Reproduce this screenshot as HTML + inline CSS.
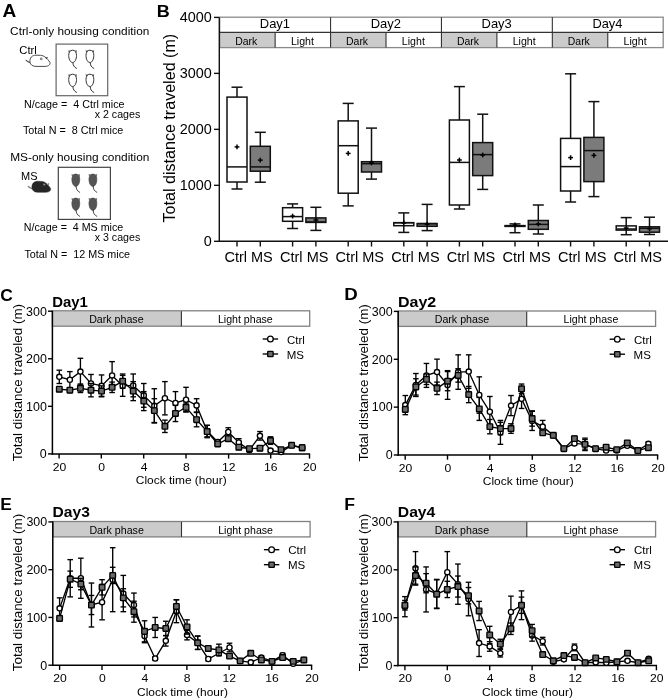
<!DOCTYPE html>
<html><head><meta charset="utf-8"><title>Figure</title>
<style>
html,body{margin:0;padding:0;background:#fff;width:668px;height:700px;overflow:hidden;}
svg{display:block;will-change:transform;}
text{font-family:"Liberation Sans", sans-serif;}
</style></head><body>
<svg width="668" height="700" viewBox="0 0 668 700">
<rect width="668" height="700" fill="#fff"/>
<text transform="translate(2.62 16.6) scale(1.0855 1)" font-size="17.6" font-weight="bold" fill="#000">A</text>
<text transform="translate(10.11 34.7) scale(1.0758 1)" font-size="11" fill="#000">Ctrl-only housing condition</text>
<text transform="translate(19.34 53.7) scale(1.1250 1)" font-size="10" fill="#000">Ctrl</text>
<path d="M30.2 62.6 Q28 62.2 26.1 60.4" stroke="#4a4a4a" stroke-width="1.1" fill="none" stroke-linecap="round"/>
<path d="M30 62.3 C29.4 57.8 32 55.2 36 55.2 L40.5 55.3 C44 55.5 47.3 58.2 49.9 62.4 C50.6 64.6 48.6 66.3 45 66.4 L36 66.4 C32.6 66.4 30.3 64.6 30 62.3 Z" fill="#fff" stroke="#4a4a4a" stroke-width="1.0"/>
<path d="M44.6 57.4 L48 56.9 L46.8 59.2 Z" fill="#444"/>
<circle cx="41.2" cy="58.9" r="1.4" fill="#8c8c8c"/>
<rect x="56.1" y="44.1" width="51.6" height="51.6" fill="none" stroke="#666" stroke-width="1.2"/>
<path d="M72.9 62.2 C72.8 65.4 74.1 67.1 76.5 68.4" stroke="#333" stroke-width="1.0" fill="none" stroke-linecap="round"/>
<path d="M72.6 50.2 C75.3 50.2 76.5 52.6 76.5 55.4 C76.5 59 75 62.5 72.6 62.5 C70.2 62.5 68.7 59 68.7 55.4 C68.7 52.6 69.9 50.2 72.6 50.2 Z" fill="#fff" stroke="#333" stroke-width="1.0"/>
<path d="M68.2 50.4 L70.7 50.5 L69 53 Z M77 50.4 L74.5 50.5 L76.2 53 Z" fill="#555"/>
<path d="M90.2 62.2 C90.1 65.4 91.4 67.1 93.8 68.4" stroke="#333" stroke-width="1.0" fill="none" stroke-linecap="round"/>
<path d="M89.9 50.2 C92.6 50.2 93.8 52.6 93.8 55.4 C93.8 59 92.3 62.5 89.9 62.5 C87.5 62.5 86 59 86 55.4 C86 52.6 87.2 50.2 89.9 50.2 Z" fill="#fff" stroke="#333" stroke-width="1.0"/>
<path d="M85.5 50.4 L88 50.5 L86.3 53 Z M94.3 50.4 L91.8 50.5 L93.5 53 Z" fill="#555"/>
<path d="M72.9 86.2 C72.8 89.4 74.1 91.1 76.5 92.4" stroke="#333" stroke-width="1.0" fill="none" stroke-linecap="round"/>
<path d="M72.6 74.2 C75.3 74.2 76.5 76.6 76.5 79.4 C76.5 83 75 86.5 72.6 86.5 C70.2 86.5 68.7 83 68.7 79.4 C68.7 76.6 69.9 74.2 72.6 74.2 Z" fill="#fff" stroke="#333" stroke-width="1.0"/>
<path d="M68.2 74.4 L70.7 74.5 L69 77 Z M77 74.4 L74.5 74.5 L76.2 77 Z" fill="#555"/>
<path d="M90.2 86.2 C90.1 89.4 91.4 91.1 93.8 92.4" stroke="#333" stroke-width="1.0" fill="none" stroke-linecap="round"/>
<path d="M89.9 74.2 C92.6 74.2 93.8 76.6 93.8 79.4 C93.8 83 92.3 86.5 89.9 86.5 C87.5 86.5 86 83 86 79.4 C86 76.6 87.2 74.2 89.9 74.2 Z" fill="#fff" stroke="#333" stroke-width="1.0"/>
<path d="M85.5 74.4 L88 74.5 L86.3 77 Z M94.3 74.4 L91.8 74.5 L93.5 77 Z" fill="#555"/>
<text transform="translate(23.94 107.9) scale(1.0536 1)" font-size="10.2" fill="#000">N/cage =&#160;&#160;4 Ctrl mice</text>
<text transform="translate(94.74 118) scale(1.0430 1)" font-size="10.2" fill="#000">x 2 cages</text>
<text transform="translate(22.88 133.5) scale(1.0589 1)" font-size="10.2" fill="#000">Total N =&#160;&#160;8 Ctrl mice</text>
<text transform="translate(10.15 160.8) scale(1.0813 1)" font-size="11" fill="#000">MS-only housing condition</text>
<text transform="translate(21.02 179.6) scale(1.0982 1)" font-size="10" fill="#000">MS</text>
<path d="M32.19 188.57 Q30.14 188.18 28.37 186.41" stroke="#808080" stroke-width="1.4" fill="none" stroke-linecap="round"/>
<path d="M32 188.27 C31.44 183.86 33.86 181.32 37.58 181.32 L41.77 181.41 C45.02 181.61 48.09 184.26 50.51 188.37 C51.16 190.53 49.3 192.19 45.95 192.29 L37.58 192.29 C34.42 192.29 32.28 190.53 32 188.27 Z" fill="#262626" stroke="#262626" stroke-width="0.5"/>
<path d="M46.88 184.45 Q50.13 181.12 48.93 185.63 Z" fill="#8c8c8c"/>
<circle cx="44.3" cy="184.5" r="1.1" fill="#909090"/>
<rect x="58.3" y="167.3" width="52.1" height="52.1" fill="none" stroke="#444" stroke-width="1.2"/>
<path d="M76.1 186.1 C76 189.3 77.3 191 79.7 192.3" stroke="#444" stroke-width="1.0" fill="none" stroke-linecap="round"/>
<path d="M75.8 174.1 C78.5 174.1 79.7 176.5 79.7 179.3 C79.7 182.9 78.2 186.4 75.8 186.4 C73.4 186.4 71.9 182.9 71.9 179.3 C71.9 176.5 73.1 174.1 75.8 174.1 Z" fill="#555555" stroke="#444" stroke-width="0.7"/>
<path d="M71.4 174.3 L73.9 174.4 L72.2 176.9 Z M80.2 174.3 L77.7 174.4 L79.4 176.9 Z" fill="#666"/>
<path d="M93.2 186.1 C93.1 189.3 94.4 191 96.8 192.3" stroke="#444" stroke-width="1.0" fill="none" stroke-linecap="round"/>
<path d="M92.9 174.1 C95.6 174.1 96.8 176.5 96.8 179.3 C96.8 182.9 95.3 186.4 92.9 186.4 C90.5 186.4 89 182.9 89 179.3 C89 176.5 90.2 174.1 92.9 174.1 Z" fill="#555555" stroke="#444" stroke-width="0.7"/>
<path d="M88.5 174.3 L91 174.4 L89.3 176.9 Z M97.3 174.3 L94.8 174.4 L96.5 176.9 Z" fill="#666"/>
<path d="M76.1 210.1 C76 213.3 77.3 215 79.7 216.3" stroke="#444" stroke-width="1.0" fill="none" stroke-linecap="round"/>
<path d="M75.8 198.1 C78.5 198.1 79.7 200.5 79.7 203.3 C79.7 206.9 78.2 210.4 75.8 210.4 C73.4 210.4 71.9 206.9 71.9 203.3 C71.9 200.5 73.1 198.1 75.8 198.1 Z" fill="#555555" stroke="#444" stroke-width="0.7"/>
<path d="M71.4 198.3 L73.9 198.4 L72.2 200.9 Z M80.2 198.3 L77.7 198.4 L79.4 200.9 Z" fill="#666"/>
<path d="M93.2 210.1 C93.1 213.3 94.4 215 96.8 216.3" stroke="#444" stroke-width="1.0" fill="none" stroke-linecap="round"/>
<path d="M92.9 198.1 C95.6 198.1 96.8 200.5 96.8 203.3 C96.8 206.9 95.3 210.4 92.9 210.4 C90.5 210.4 89 206.9 89 203.3 C89 200.5 90.2 198.1 92.9 198.1 Z" fill="#555555" stroke="#444" stroke-width="0.7"/>
<path d="M88.5 198.3 L91 198.4 L89.3 200.9 Z M97.3 198.3 L94.8 198.4 L96.5 200.9 Z" fill="#666"/>
<text transform="translate(23.84 231) scale(1.0482 1)" font-size="10.2" fill="#000">N/cage =&#160;&#160;4 MS mice</text>
<text transform="translate(94.74 241.2) scale(1.0430 1)" font-size="10.2" fill="#000">x 3 cages</text>
<text transform="translate(24.38 257.9) scale(1.0574 1)" font-size="10.2" fill="#000">Total N =&#160;&#160;12 MS mice</text>
<text transform="translate(156.73 16.5) scale(1.0863 1)" font-size="16.6" font-weight="bold" fill="#000">B</text>
<rect x="219.7" y="32.4" width="55.44" height="15.2" fill="#cbcbcb"/>
<rect x="330.57" y="32.4" width="55.44" height="15.2" fill="#cbcbcb"/>
<rect x="441.45" y="32.4" width="55.44" height="15.2" fill="#cbcbcb"/>
<rect x="552.33" y="32.4" width="55.44" height="15.2" fill="#cbcbcb"/>
<rect x="219.7" y="17.2" width="443.5" height="30.4" fill="none" stroke="#8a8a8a" stroke-width="1.3"/>
<line x1="219.7" y1="32.4" x2="663.2" y2="32.4" stroke="#333" stroke-width="1.1"/>
<line x1="330.57" y1="17.2" x2="330.57" y2="47.6" stroke="#333" stroke-width="1.1"/>
<line x1="441.45" y1="17.2" x2="441.45" y2="47.6" stroke="#333" stroke-width="1.1"/>
<line x1="552.33" y1="17.2" x2="552.33" y2="47.6" stroke="#333" stroke-width="1.1"/>
<line x1="275.14" y1="32.4" x2="275.14" y2="47.6" stroke="#333" stroke-width="1.1"/>
<line x1="386.01" y1="32.4" x2="386.01" y2="47.6" stroke="#333" stroke-width="1.1"/>
<line x1="496.89" y1="32.4" x2="496.89" y2="47.6" stroke="#333" stroke-width="1.1"/>
<line x1="607.76" y1="32.4" x2="607.76" y2="47.6" stroke="#333" stroke-width="1.1"/>
<text transform="translate(259.8 27.9) scale(1.0900 1)" font-size="11.9" fill="#000">Day1</text>
<text transform="translate(235.18 44.5) scale(1.0139 1)" font-size="10.3" fill="#000">Dark</text>
<text transform="translate(290.96 44.5) scale(1.0316 1)" font-size="10.3" fill="#000">Light</text>
<text transform="translate(370.67 27.9) scale(1.0900 1)" font-size="11.9" fill="#000">Day2</text>
<text transform="translate(346.06 44.5) scale(1.0139 1)" font-size="10.3" fill="#000">Dark</text>
<text transform="translate(401.83 44.5) scale(1.0316 1)" font-size="10.3" fill="#000">Light</text>
<text transform="translate(481.55 27.9) scale(1.0875 1)" font-size="11.9" fill="#000">Day3</text>
<text transform="translate(456.93 44.5) scale(1.0139 1)" font-size="10.3" fill="#000">Dark</text>
<text transform="translate(512.71 44.5) scale(1.0316 1)" font-size="10.3" fill="#000">Light</text>
<text transform="translate(592.43 27.9) scale(1.0802 1)" font-size="11.9" fill="#000">Day4</text>
<text transform="translate(567.81 44.5) scale(1.0139 1)" font-size="10.3" fill="#000">Dark</text>
<text transform="translate(623.58 44.5) scale(1.0316 1)" font-size="10.3" fill="#000">Light</text>
<line x1="219.3" y1="17.4" x2="219.3" y2="241.9" stroke="#111" stroke-width="1.4"/>
<line x1="218.6" y1="241.3" x2="668" y2="241.3" stroke="#111" stroke-width="1.4"/>
<line x1="214" y1="241.3" x2="219.3" y2="241.3" stroke="#111" stroke-width="1.4"/>
<text transform="translate(203.87 246.3) scale(1.0300 1)" font-size="14" fill="#000">0</text>
<line x1="214" y1="185.33" x2="219.3" y2="185.33" stroke="#111" stroke-width="1.4"/>
<text transform="translate(179.79 190.33) scale(1.0300 1)" font-size="14" fill="#000">1000</text>
<line x1="214" y1="129.35" x2="219.3" y2="129.35" stroke="#111" stroke-width="1.4"/>
<text transform="translate(179.79 134.35) scale(1.0300 1)" font-size="14" fill="#000">2000</text>
<line x1="214" y1="73.38" x2="219.3" y2="73.38" stroke="#111" stroke-width="1.4"/>
<text transform="translate(179.79 78.38) scale(1.0300 1)" font-size="14" fill="#000">3000</text>
<line x1="214" y1="17.4" x2="219.3" y2="17.4" stroke="#111" stroke-width="1.4"/>
<text transform="translate(179.79 22.4) scale(1.0300 1)" font-size="14" fill="#000">4000</text>
<text transform="translate(175 222.52) rotate(-90) scale(1.0321 1)" font-size="15.6" fill="#000">Total distance traveled (m)</text>
<line x1="237" y1="241.3" x2="237" y2="246.5" stroke="#111" stroke-width="1.4"/>
<line x1="260.3" y1="241.3" x2="260.3" y2="246.5" stroke="#111" stroke-width="1.4"/>
<text transform="translate(224.42 261.5) scale(1.0089 1)" font-size="14.4" fill="#000">Ctrl MS</text>
<line x1="237" y1="87.2" x2="237" y2="97.1" stroke="#111" stroke-width="1.5"/>
<line x1="237" y1="182" x2="237" y2="189" stroke="#111" stroke-width="1.5"/>
<line x1="231.5" y1="87.2" x2="242.5" y2="87.2" stroke="#111" stroke-width="1.5"/>
<line x1="231.5" y1="189" x2="242.5" y2="189" stroke="#111" stroke-width="1.5"/>
<rect x="227" y="97.1" width="20" height="84.9" fill="#fff" stroke="#111" stroke-width="1.5"/>
<line x1="227" y1="166.9" x2="247" y2="166.9" stroke="#111" stroke-width="1.5"/>
<line x1="234.6" y1="146.9" x2="239.4" y2="146.9" stroke="#000" stroke-width="1.5"/>
<line x1="237" y1="144.5" x2="237" y2="149.3" stroke="#000" stroke-width="1.5"/>
<line x1="260.3" y1="132.3" x2="260.3" y2="146.3" stroke="#111" stroke-width="1.5"/>
<line x1="260.3" y1="171.2" x2="260.3" y2="182.2" stroke="#111" stroke-width="1.5"/>
<line x1="254.8" y1="132.3" x2="265.8" y2="132.3" stroke="#111" stroke-width="1.5"/>
<line x1="254.8" y1="182.2" x2="265.8" y2="182.2" stroke="#111" stroke-width="1.5"/>
<rect x="250.3" y="146.3" width="20" height="24.9" fill="#7b7b7b" stroke="#111" stroke-width="1.5"/>
<line x1="250.3" y1="166.9" x2="270.3" y2="166.9" stroke="#111" stroke-width="1.5"/>
<line x1="257.9" y1="160.1" x2="262.7" y2="160.1" stroke="#000" stroke-width="1.5"/>
<line x1="260.3" y1="157.7" x2="260.3" y2="162.5" stroke="#000" stroke-width="1.5"/>
<line x1="292.6" y1="241.3" x2="292.6" y2="246.5" stroke="#111" stroke-width="1.4"/>
<line x1="315.9" y1="241.3" x2="315.9" y2="246.5" stroke="#111" stroke-width="1.4"/>
<text transform="translate(280.02 261.5) scale(1.0089 1)" font-size="14.4" fill="#000">Ctrl MS</text>
<line x1="292.6" y1="203.9" x2="292.6" y2="207.7" stroke="#111" stroke-width="1.5"/>
<line x1="292.6" y1="221.3" x2="292.6" y2="228.5" stroke="#111" stroke-width="1.5"/>
<line x1="287.1" y1="203.9" x2="298.1" y2="203.9" stroke="#111" stroke-width="1.5"/>
<line x1="287.1" y1="228.5" x2="298.1" y2="228.5" stroke="#111" stroke-width="1.5"/>
<rect x="282.6" y="207.7" width="20" height="13.6" fill="#fff" stroke="#111" stroke-width="1.5"/>
<line x1="282.6" y1="216.6" x2="302.6" y2="216.6" stroke="#111" stroke-width="1.5"/>
<line x1="290.2" y1="216.1" x2="295" y2="216.1" stroke="#000" stroke-width="1.5"/>
<line x1="292.6" y1="213.7" x2="292.6" y2="218.5" stroke="#000" stroke-width="1.5"/>
<line x1="315.9" y1="207.3" x2="315.9" y2="217.9" stroke="#111" stroke-width="1.5"/>
<line x1="315.9" y1="222.4" x2="315.9" y2="230.4" stroke="#111" stroke-width="1.5"/>
<line x1="310.4" y1="207.3" x2="321.4" y2="207.3" stroke="#111" stroke-width="1.5"/>
<line x1="310.4" y1="230.4" x2="321.4" y2="230.4" stroke="#111" stroke-width="1.5"/>
<rect x="305.9" y="217.9" width="20" height="4.5" fill="#7b7b7b" stroke="#111" stroke-width="1.5"/>
<line x1="305.9" y1="222" x2="325.9" y2="222" stroke="#111" stroke-width="1.5"/>
<line x1="313.5" y1="220" x2="318.3" y2="220" stroke="#000" stroke-width="1.5"/>
<line x1="315.9" y1="217.6" x2="315.9" y2="222.4" stroke="#000" stroke-width="1.5"/>
<line x1="348.2" y1="241.3" x2="348.2" y2="246.5" stroke="#111" stroke-width="1.4"/>
<line x1="371.5" y1="241.3" x2="371.5" y2="246.5" stroke="#111" stroke-width="1.4"/>
<text transform="translate(335.62 261.5) scale(1.0089 1)" font-size="14.4" fill="#000">Ctrl MS</text>
<line x1="348.2" y1="103.4" x2="348.2" y2="120.9" stroke="#111" stroke-width="1.5"/>
<line x1="348.2" y1="193.2" x2="348.2" y2="205.9" stroke="#111" stroke-width="1.5"/>
<line x1="342.7" y1="103.4" x2="353.7" y2="103.4" stroke="#111" stroke-width="1.5"/>
<line x1="342.7" y1="205.9" x2="353.7" y2="205.9" stroke="#111" stroke-width="1.5"/>
<rect x="338.2" y="120.9" width="20" height="72.3" fill="#fff" stroke="#111" stroke-width="1.5"/>
<line x1="338.2" y1="145.7" x2="358.2" y2="145.7" stroke="#111" stroke-width="1.5"/>
<line x1="345.8" y1="153.4" x2="350.6" y2="153.4" stroke="#000" stroke-width="1.5"/>
<line x1="348.2" y1="151" x2="348.2" y2="155.8" stroke="#000" stroke-width="1.5"/>
<line x1="371.5" y1="128.1" x2="371.5" y2="161.7" stroke="#111" stroke-width="1.5"/>
<line x1="371.5" y1="172" x2="371.5" y2="179.1" stroke="#111" stroke-width="1.5"/>
<line x1="366" y1="128.1" x2="377" y2="128.1" stroke="#111" stroke-width="1.5"/>
<line x1="366" y1="179.1" x2="377" y2="179.1" stroke="#111" stroke-width="1.5"/>
<rect x="361.5" y="161.7" width="20" height="10.3" fill="#7b7b7b" stroke="#111" stroke-width="1.5"/>
<line x1="361.5" y1="163.7" x2="381.5" y2="163.7" stroke="#111" stroke-width="1.5"/>
<line x1="369.1" y1="162.9" x2="373.9" y2="162.9" stroke="#000" stroke-width="1.5"/>
<line x1="371.5" y1="160.5" x2="371.5" y2="165.3" stroke="#000" stroke-width="1.5"/>
<line x1="403.8" y1="241.3" x2="403.8" y2="246.5" stroke="#111" stroke-width="1.4"/>
<line x1="427.1" y1="241.3" x2="427.1" y2="246.5" stroke="#111" stroke-width="1.4"/>
<text transform="translate(391.22 261.5) scale(1.0089 1)" font-size="14.4" fill="#000">Ctrl MS</text>
<line x1="403.8" y1="212.9" x2="403.8" y2="222.7" stroke="#111" stroke-width="1.5"/>
<line x1="403.8" y1="225.7" x2="403.8" y2="232.4" stroke="#111" stroke-width="1.5"/>
<line x1="398.3" y1="212.9" x2="409.3" y2="212.9" stroke="#111" stroke-width="1.5"/>
<line x1="398.3" y1="232.4" x2="409.3" y2="232.4" stroke="#111" stroke-width="1.5"/>
<rect x="393.8" y="222.7" width="20" height="3" fill="#fff" stroke="#111" stroke-width="1.5"/>
<line x1="393.8" y1="222.7" x2="413.8" y2="222.7" stroke="#111" stroke-width="1.5"/>
<line x1="401.4" y1="223" x2="406.2" y2="223" stroke="#000" stroke-width="1.5"/>
<line x1="403.8" y1="220.6" x2="403.8" y2="225.4" stroke="#000" stroke-width="1.5"/>
<line x1="427.1" y1="204.4" x2="427.1" y2="223.6" stroke="#111" stroke-width="1.5"/>
<line x1="427.1" y1="226.3" x2="427.1" y2="230.6" stroke="#111" stroke-width="1.5"/>
<line x1="421.6" y1="204.4" x2="432.6" y2="204.4" stroke="#111" stroke-width="1.5"/>
<line x1="421.6" y1="230.6" x2="432.6" y2="230.6" stroke="#111" stroke-width="1.5"/>
<rect x="417.1" y="223.6" width="20" height="2.7" fill="#7b7b7b" stroke="#111" stroke-width="1.5"/>
<line x1="417.1" y1="223.6" x2="437.1" y2="223.6" stroke="#111" stroke-width="1.5"/>
<line x1="424.7" y1="224.2" x2="429.5" y2="224.2" stroke="#000" stroke-width="1.5"/>
<line x1="427.1" y1="221.8" x2="427.1" y2="226.6" stroke="#000" stroke-width="1.5"/>
<line x1="459.4" y1="241.3" x2="459.4" y2="246.5" stroke="#111" stroke-width="1.4"/>
<line x1="482.7" y1="241.3" x2="482.7" y2="246.5" stroke="#111" stroke-width="1.4"/>
<text transform="translate(446.82 261.5) scale(1.0089 1)" font-size="14.4" fill="#000">Ctrl MS</text>
<line x1="459.4" y1="86.6" x2="459.4" y2="120" stroke="#111" stroke-width="1.5"/>
<line x1="459.4" y1="205" x2="459.4" y2="209" stroke="#111" stroke-width="1.5"/>
<line x1="453.9" y1="86.6" x2="464.9" y2="86.6" stroke="#111" stroke-width="1.5"/>
<line x1="453.9" y1="209" x2="464.9" y2="209" stroke="#111" stroke-width="1.5"/>
<rect x="449.4" y="120" width="20" height="85" fill="#fff" stroke="#111" stroke-width="1.5"/>
<line x1="449.4" y1="162.4" x2="469.4" y2="162.4" stroke="#111" stroke-width="1.5"/>
<line x1="457" y1="160" x2="461.8" y2="160" stroke="#000" stroke-width="1.5"/>
<line x1="459.4" y1="157.6" x2="459.4" y2="162.4" stroke="#000" stroke-width="1.5"/>
<line x1="482.7" y1="114.2" x2="482.7" y2="142.6" stroke="#111" stroke-width="1.5"/>
<line x1="482.7" y1="175.6" x2="482.7" y2="189.4" stroke="#111" stroke-width="1.5"/>
<line x1="477.2" y1="114.2" x2="488.2" y2="114.2" stroke="#111" stroke-width="1.5"/>
<line x1="477.2" y1="189.4" x2="488.2" y2="189.4" stroke="#111" stroke-width="1.5"/>
<rect x="472.7" y="142.6" width="20" height="33" fill="#7b7b7b" stroke="#111" stroke-width="1.5"/>
<line x1="472.7" y1="154.6" x2="492.7" y2="154.6" stroke="#111" stroke-width="1.5"/>
<line x1="480.3" y1="155" x2="485.1" y2="155" stroke="#000" stroke-width="1.5"/>
<line x1="482.7" y1="152.6" x2="482.7" y2="157.4" stroke="#000" stroke-width="1.5"/>
<line x1="515" y1="241.3" x2="515" y2="246.5" stroke="#111" stroke-width="1.4"/>
<line x1="538.3" y1="241.3" x2="538.3" y2="246.5" stroke="#111" stroke-width="1.4"/>
<text transform="translate(502.42 261.5) scale(1.0089 1)" font-size="14.4" fill="#000">Ctrl MS</text>
<line x1="515" y1="223.9" x2="515" y2="225.6" stroke="#111" stroke-width="1.5"/>
<line x1="515" y1="226.4" x2="515" y2="232.7" stroke="#111" stroke-width="1.5"/>
<line x1="509.5" y1="223.9" x2="520.5" y2="223.9" stroke="#111" stroke-width="1.5"/>
<line x1="509.5" y1="232.7" x2="520.5" y2="232.7" stroke="#111" stroke-width="1.5"/>
<rect x="505" y="225.6" width="20" height="0.8" fill="#fff" stroke="#111" stroke-width="1.5"/>
<line x1="505" y1="226" x2="525" y2="226" stroke="#111" stroke-width="1.5"/>
<line x1="512.6" y1="225" x2="517.4" y2="225" stroke="#000" stroke-width="1.5"/>
<line x1="515" y1="222.6" x2="515" y2="227.4" stroke="#000" stroke-width="1.5"/>
<line x1="538.3" y1="205" x2="538.3" y2="220.5" stroke="#111" stroke-width="1.5"/>
<line x1="538.3" y1="229.3" x2="538.3" y2="234" stroke="#111" stroke-width="1.5"/>
<line x1="532.8" y1="205" x2="543.8" y2="205" stroke="#111" stroke-width="1.5"/>
<line x1="532.8" y1="234" x2="543.8" y2="234" stroke="#111" stroke-width="1.5"/>
<rect x="528.3" y="220.5" width="20" height="8.8" fill="#7b7b7b" stroke="#111" stroke-width="1.5"/>
<line x1="528.3" y1="224.4" x2="548.3" y2="224.4" stroke="#111" stroke-width="1.5"/>
<line x1="535.9" y1="224" x2="540.7" y2="224" stroke="#000" stroke-width="1.5"/>
<line x1="538.3" y1="221.6" x2="538.3" y2="226.4" stroke="#000" stroke-width="1.5"/>
<line x1="570.6" y1="241.3" x2="570.6" y2="246.5" stroke="#111" stroke-width="1.4"/>
<line x1="593.9" y1="241.3" x2="593.9" y2="246.5" stroke="#111" stroke-width="1.4"/>
<text transform="translate(558.02 261.5) scale(1.0089 1)" font-size="14.4" fill="#000">Ctrl MS</text>
<line x1="570.6" y1="73.8" x2="570.6" y2="138.4" stroke="#111" stroke-width="1.5"/>
<line x1="570.6" y1="191" x2="570.6" y2="202" stroke="#111" stroke-width="1.5"/>
<line x1="565.1" y1="73.8" x2="576.1" y2="73.8" stroke="#111" stroke-width="1.5"/>
<line x1="565.1" y1="202" x2="576.1" y2="202" stroke="#111" stroke-width="1.5"/>
<rect x="560.6" y="138.4" width="20" height="52.6" fill="#fff" stroke="#111" stroke-width="1.5"/>
<line x1="560.6" y1="166.6" x2="580.6" y2="166.6" stroke="#111" stroke-width="1.5"/>
<line x1="568.2" y1="157.6" x2="573" y2="157.6" stroke="#000" stroke-width="1.5"/>
<line x1="570.6" y1="155.2" x2="570.6" y2="160" stroke="#000" stroke-width="1.5"/>
<line x1="593.9" y1="101.6" x2="593.9" y2="137.4" stroke="#111" stroke-width="1.5"/>
<line x1="593.9" y1="181.6" x2="593.9" y2="196.6" stroke="#111" stroke-width="1.5"/>
<line x1="588.4" y1="101.6" x2="599.4" y2="101.6" stroke="#111" stroke-width="1.5"/>
<line x1="588.4" y1="196.6" x2="599.4" y2="196.6" stroke="#111" stroke-width="1.5"/>
<rect x="583.9" y="137.4" width="20" height="44.2" fill="#7b7b7b" stroke="#111" stroke-width="1.5"/>
<line x1="583.9" y1="150.6" x2="603.9" y2="150.6" stroke="#111" stroke-width="1.5"/>
<line x1="591.5" y1="155.4" x2="596.3" y2="155.4" stroke="#000" stroke-width="1.5"/>
<line x1="593.9" y1="153" x2="593.9" y2="157.8" stroke="#000" stroke-width="1.5"/>
<line x1="626.2" y1="241.3" x2="626.2" y2="246.5" stroke="#111" stroke-width="1.4"/>
<line x1="649.5" y1="241.3" x2="649.5" y2="246.5" stroke="#111" stroke-width="1.4"/>
<text transform="translate(613.62 261.5) scale(1.0089 1)" font-size="14.4" fill="#000">Ctrl MS</text>
<line x1="626.2" y1="217.6" x2="626.2" y2="225.9" stroke="#111" stroke-width="1.5"/>
<line x1="626.2" y1="230.1" x2="626.2" y2="234.7" stroke="#111" stroke-width="1.5"/>
<line x1="620.7" y1="217.6" x2="631.7" y2="217.6" stroke="#111" stroke-width="1.5"/>
<line x1="620.7" y1="234.7" x2="631.7" y2="234.7" stroke="#111" stroke-width="1.5"/>
<rect x="616.2" y="225.9" width="20" height="4.2" fill="#fff" stroke="#111" stroke-width="1.5"/>
<line x1="616.2" y1="229" x2="636.2" y2="229" stroke="#111" stroke-width="1.5"/>
<line x1="623.8" y1="228" x2="628.6" y2="228" stroke="#000" stroke-width="1.5"/>
<line x1="626.2" y1="225.6" x2="626.2" y2="230.4" stroke="#000" stroke-width="1.5"/>
<line x1="649.5" y1="217.2" x2="649.5" y2="226.8" stroke="#111" stroke-width="1.5"/>
<line x1="649.5" y1="232.2" x2="649.5" y2="234.5" stroke="#111" stroke-width="1.5"/>
<line x1="644" y1="217.2" x2="655" y2="217.2" stroke="#111" stroke-width="1.5"/>
<line x1="644" y1="234.5" x2="655" y2="234.5" stroke="#111" stroke-width="1.5"/>
<rect x="639.5" y="226.8" width="20" height="5.4" fill="#7b7b7b" stroke="#111" stroke-width="1.5"/>
<line x1="639.5" y1="228.3" x2="659.5" y2="228.3" stroke="#111" stroke-width="1.5"/>
<line x1="647.1" y1="228.8" x2="651.9" y2="228.8" stroke="#000" stroke-width="1.5"/>
<line x1="649.5" y1="226.4" x2="649.5" y2="231.2" stroke="#000" stroke-width="1.5"/>
<text transform="translate(0.2 300.6) scale(1.0238 1)" font-size="17" font-weight="bold" fill="#000">C</text>
<text transform="translate(52.23 306.6) scale(1.0502 1)" font-size="14.2" font-weight="bold" fill="#000">Day1</text>
<rect x="52.4" y="311.2" width="129" height="15" fill="#cbcbcb"/>
<rect x="52.4" y="310.8" width="257.3" height="15.4" fill="none" stroke="#808080" stroke-width="1.3"/>
<line x1="181.4" y1="311.2" x2="181.4" y2="326.2" stroke="#333" stroke-width="1.1"/>
<text transform="translate(89.15 323.1) scale(1.0351 1)" font-size="10.3" fill="#000">Dark phase</text>
<text transform="translate(217.95 323.1) scale(1.0296 1)" font-size="10.3" fill="#000">Light phase</text>
<line x1="52.4" y1="310.8" x2="52.4" y2="454.6" stroke="#000" stroke-width="1.5"/>
<line x1="51.7" y1="453.9" x2="310.1" y2="453.9" stroke="#000" stroke-width="1.5"/>
<line x1="48" y1="453.9" x2="52.4" y2="453.9" stroke="#000" stroke-width="1.4"/>
<text transform="translate(39.87 458.2) scale(1.0400 1)" font-size="12" fill="#000">0</text>
<line x1="48" y1="406.33" x2="52.4" y2="406.33" stroke="#000" stroke-width="1.4"/>
<text transform="translate(26.02 410.63) scale(1.0400 1)" font-size="12" fill="#000">100</text>
<line x1="48" y1="358.77" x2="52.4" y2="358.77" stroke="#000" stroke-width="1.4"/>
<text transform="translate(26.02 363.07) scale(1.0400 1)" font-size="12" fill="#000">200</text>
<line x1="48" y1="311.2" x2="52.4" y2="311.2" stroke="#000" stroke-width="1.4"/>
<text transform="translate(26.02 315.5) scale(1.0400 1)" font-size="12" fill="#000">300</text>
<line x1="59.1" y1="453.9" x2="59.1" y2="458.6" stroke="#000" stroke-width="1.4"/>
<text transform="translate(52.64 470.7) scale(1.0400 1)" font-size="11.7" fill="#000">20</text>
<line x1="101.3" y1="453.9" x2="101.3" y2="458.6" stroke="#000" stroke-width="1.4"/>
<text transform="translate(98.27 470.7) scale(1.0400 1)" font-size="11.7" fill="#000">0</text>
<line x1="143.7" y1="453.9" x2="143.7" y2="458.6" stroke="#000" stroke-width="1.4"/>
<text transform="translate(140.7 470.7) scale(1.0400 1)" font-size="11.7" fill="#000">4</text>
<line x1="186" y1="453.9" x2="186" y2="458.6" stroke="#000" stroke-width="1.4"/>
<text transform="translate(182.94 470.7) scale(1.0400 1)" font-size="11.7" fill="#000">8</text>
<line x1="228.6" y1="453.9" x2="228.6" y2="458.6" stroke="#000" stroke-width="1.4"/>
<text transform="translate(222.04 470.7) scale(1.0400 1)" font-size="11.7" fill="#000">12</text>
<line x1="270.7" y1="453.9" x2="270.7" y2="458.6" stroke="#000" stroke-width="1.4"/>
<text transform="translate(264.11 470.7) scale(1.0400 1)" font-size="11.7" fill="#000">16</text>
<line x1="309.5" y1="453.9" x2="309.5" y2="458.6" stroke="#000" stroke-width="1.4"/>
<text transform="translate(303.04 470.7) scale(1.0400 1)" font-size="11.7" fill="#000">20</text>
<text transform="translate(135.85 484.3) scale(1.1165 1)" font-size="10.7" fill="#000">Clock time (hour)</text>
<text transform="translate(22.2 461.37) rotate(-90) scale(1.0023 1)" font-size="13.4" fill="#000">Total distance traveled (m)</text>
<line x1="262.7" y1="339" x2="278.1" y2="339" stroke="#000" stroke-width="1.35"/>
<circle cx="270.4" cy="339" r="2.85" fill="#fff" stroke="#000" stroke-width="1.3"/>
<text transform="translate(287.02 343.7) scale(1.0000 1)" font-size="11.5" fill="#000">Ctrl</text>
<line x1="262.7" y1="354" x2="278.1" y2="354" stroke="#000" stroke-width="1.35"/>
<rect x="267.7" y="351.4" width="5.4" height="5.2" rx="0.6" fill="#6b6b6b" stroke="#000" stroke-width="1.3"/>
<text transform="translate(286.68 358.7) scale(1.0000 1)" font-size="11.5" fill="#000">MS</text>
<line x1="59.3" y1="370.18" x2="59.3" y2="383.5" stroke="#000" stroke-width="1.35"/>
<line x1="56.5" y1="370.18" x2="62.1" y2="370.18" stroke="#000" stroke-width="1.35"/>
<line x1="56.5" y1="383.5" x2="62.1" y2="383.5" stroke="#000" stroke-width="1.35"/>
<line x1="69.86" y1="371.61" x2="69.86" y2="387.78" stroke="#000" stroke-width="1.35"/>
<line x1="67.06" y1="371.61" x2="72.66" y2="371.61" stroke="#000" stroke-width="1.35"/>
<line x1="67.06" y1="387.78" x2="72.66" y2="387.78" stroke="#000" stroke-width="1.35"/>
<line x1="80.42" y1="358.29" x2="80.42" y2="384.93" stroke="#000" stroke-width="1.35"/>
<line x1="77.62" y1="358.29" x2="83.22" y2="358.29" stroke="#000" stroke-width="1.35"/>
<line x1="77.62" y1="384.93" x2="83.22" y2="384.93" stroke="#000" stroke-width="1.35"/>
<line x1="90.98" y1="374.46" x2="90.98" y2="392.54" stroke="#000" stroke-width="1.35"/>
<line x1="88.18" y1="374.46" x2="93.78" y2="374.46" stroke="#000" stroke-width="1.35"/>
<line x1="88.18" y1="392.54" x2="93.78" y2="392.54" stroke="#000" stroke-width="1.35"/>
<line x1="101.54" y1="374.94" x2="101.54" y2="396.82" stroke="#000" stroke-width="1.35"/>
<line x1="98.74" y1="374.94" x2="104.34" y2="374.94" stroke="#000" stroke-width="1.35"/>
<line x1="98.74" y1="396.82" x2="104.34" y2="396.82" stroke="#000" stroke-width="1.35"/>
<line x1="112.1" y1="361.62" x2="112.1" y2="389.21" stroke="#000" stroke-width="1.35"/>
<line x1="109.3" y1="361.62" x2="114.9" y2="361.62" stroke="#000" stroke-width="1.35"/>
<line x1="109.3" y1="389.21" x2="114.9" y2="389.21" stroke="#000" stroke-width="1.35"/>
<line x1="122.66" y1="375.41" x2="122.66" y2="396.34" stroke="#000" stroke-width="1.35"/>
<line x1="119.86" y1="375.41" x2="125.46" y2="375.41" stroke="#000" stroke-width="1.35"/>
<line x1="119.86" y1="396.34" x2="125.46" y2="396.34" stroke="#000" stroke-width="1.35"/>
<line x1="133.22" y1="373.99" x2="133.22" y2="396.82" stroke="#000" stroke-width="1.35"/>
<line x1="130.42" y1="373.99" x2="136.02" y2="373.99" stroke="#000" stroke-width="1.35"/>
<line x1="130.42" y1="396.82" x2="136.02" y2="396.82" stroke="#000" stroke-width="1.35"/>
<line x1="143.78" y1="383.5" x2="143.78" y2="407.28" stroke="#000" stroke-width="1.35"/>
<line x1="140.98" y1="383.5" x2="146.58" y2="383.5" stroke="#000" stroke-width="1.35"/>
<line x1="140.98" y1="407.28" x2="146.58" y2="407.28" stroke="#000" stroke-width="1.35"/>
<line x1="154.34" y1="388.73" x2="154.34" y2="422.98" stroke="#000" stroke-width="1.35"/>
<line x1="151.54" y1="388.73" x2="157.14" y2="388.73" stroke="#000" stroke-width="1.35"/>
<line x1="151.54" y1="422.98" x2="157.14" y2="422.98" stroke="#000" stroke-width="1.35"/>
<line x1="164.9" y1="381.6" x2="164.9" y2="414.9" stroke="#000" stroke-width="1.35"/>
<line x1="162.1" y1="381.6" x2="167.7" y2="381.6" stroke="#000" stroke-width="1.35"/>
<line x1="162.1" y1="414.9" x2="167.7" y2="414.9" stroke="#000" stroke-width="1.35"/>
<line x1="175.46" y1="391.59" x2="175.46" y2="414.42" stroke="#000" stroke-width="1.35"/>
<line x1="172.66" y1="391.59" x2="178.26" y2="391.59" stroke="#000" stroke-width="1.35"/>
<line x1="172.66" y1="414.42" x2="178.26" y2="414.42" stroke="#000" stroke-width="1.35"/>
<line x1="186.02" y1="387.31" x2="186.02" y2="412.04" stroke="#000" stroke-width="1.35"/>
<line x1="183.22" y1="387.31" x2="188.82" y2="387.31" stroke="#000" stroke-width="1.35"/>
<line x1="183.22" y1="412.04" x2="188.82" y2="412.04" stroke="#000" stroke-width="1.35"/>
<line x1="196.58" y1="398.72" x2="196.58" y2="412.04" stroke="#000" stroke-width="1.35"/>
<line x1="193.78" y1="398.72" x2="199.38" y2="398.72" stroke="#000" stroke-width="1.35"/>
<line x1="193.78" y1="412.04" x2="199.38" y2="412.04" stroke="#000" stroke-width="1.35"/>
<line x1="207.14" y1="425.36" x2="207.14" y2="436.78" stroke="#000" stroke-width="1.35"/>
<line x1="204.34" y1="425.36" x2="209.94" y2="425.36" stroke="#000" stroke-width="1.35"/>
<line x1="204.34" y1="436.78" x2="209.94" y2="436.78" stroke="#000" stroke-width="1.35"/>
<line x1="217.7" y1="439.63" x2="217.7" y2="444.39" stroke="#000" stroke-width="1.35"/>
<line x1="214.9" y1="439.63" x2="220.5" y2="439.63" stroke="#000" stroke-width="1.35"/>
<line x1="214.9" y1="444.39" x2="220.5" y2="444.39" stroke="#000" stroke-width="1.35"/>
<line x1="228.26" y1="427.74" x2="228.26" y2="436.3" stroke="#000" stroke-width="1.35"/>
<line x1="225.46" y1="427.74" x2="231.06" y2="427.74" stroke="#000" stroke-width="1.35"/>
<line x1="225.46" y1="436.3" x2="231.06" y2="436.3" stroke="#000" stroke-width="1.35"/>
<line x1="238.82" y1="438.68" x2="238.82" y2="446.29" stroke="#000" stroke-width="1.35"/>
<line x1="236.02" y1="438.68" x2="241.62" y2="438.68" stroke="#000" stroke-width="1.35"/>
<line x1="236.02" y1="446.29" x2="241.62" y2="446.29" stroke="#000" stroke-width="1.35"/>
<line x1="249.38" y1="448.19" x2="249.38" y2="452" stroke="#000" stroke-width="1.35"/>
<line x1="246.58" y1="448.19" x2="252.18" y2="448.19" stroke="#000" stroke-width="1.35"/>
<line x1="246.58" y1="452" x2="252.18" y2="452" stroke="#000" stroke-width="1.35"/>
<line x1="259.94" y1="431.54" x2="259.94" y2="440.11" stroke="#000" stroke-width="1.35"/>
<line x1="257.14" y1="431.54" x2="262.74" y2="431.54" stroke="#000" stroke-width="1.35"/>
<line x1="257.14" y1="440.11" x2="262.74" y2="440.11" stroke="#000" stroke-width="1.35"/>
<line x1="270.5" y1="449.14" x2="270.5" y2="452" stroke="#000" stroke-width="1.35"/>
<line x1="267.7" y1="449.14" x2="273.3" y2="449.14" stroke="#000" stroke-width="1.35"/>
<line x1="267.7" y1="452" x2="273.3" y2="452" stroke="#000" stroke-width="1.35"/>
<line x1="281.06" y1="450.57" x2="281.06" y2="453.42" stroke="#000" stroke-width="1.35"/>
<line x1="278.26" y1="450.57" x2="283.86" y2="450.57" stroke="#000" stroke-width="1.35"/>
<line x1="278.26" y1="453.42" x2="283.86" y2="453.42" stroke="#000" stroke-width="1.35"/>
<line x1="291.62" y1="443.91" x2="291.62" y2="446.76" stroke="#000" stroke-width="1.35"/>
<line x1="288.82" y1="443.91" x2="294.42" y2="443.91" stroke="#000" stroke-width="1.35"/>
<line x1="288.82" y1="446.76" x2="294.42" y2="446.76" stroke="#000" stroke-width="1.35"/>
<line x1="302.18" y1="445.81" x2="302.18" y2="449.62" stroke="#000" stroke-width="1.35"/>
<line x1="299.38" y1="445.81" x2="304.98" y2="445.81" stroke="#000" stroke-width="1.35"/>
<line x1="299.38" y1="449.62" x2="304.98" y2="449.62" stroke="#000" stroke-width="1.35"/>
<polyline points="59.3,376.84 69.86,379.7 80.42,371.61 90.98,383.5 101.54,385.88 112.1,375.41 122.66,385.88 133.22,385.4 143.78,395.39 154.34,405.86 164.9,398.25 175.46,403 186.02,399.67 196.58,405.38 207.14,431.07 217.7,442.01 228.26,432.02 238.82,442.48 249.38,450.09 259.94,435.82 270.5,450.57 281.06,452 291.62,445.34 302.18,447.72" fill="none" stroke="#000" stroke-width="1.35"/>
<circle cx="59.3" cy="376.84" r="2.6" fill="#fff" stroke="#000" stroke-width="1.35"/>
<circle cx="69.86" cy="379.7" r="2.6" fill="#fff" stroke="#000" stroke-width="1.35"/>
<circle cx="80.42" cy="371.61" r="2.6" fill="#fff" stroke="#000" stroke-width="1.35"/>
<circle cx="90.98" cy="383.5" r="2.6" fill="#fff" stroke="#000" stroke-width="1.35"/>
<circle cx="101.54" cy="385.88" r="2.6" fill="#fff" stroke="#000" stroke-width="1.35"/>
<circle cx="112.1" cy="375.41" r="2.6" fill="#fff" stroke="#000" stroke-width="1.35"/>
<circle cx="122.66" cy="385.88" r="2.6" fill="#fff" stroke="#000" stroke-width="1.35"/>
<circle cx="133.22" cy="385.4" r="2.6" fill="#fff" stroke="#000" stroke-width="1.35"/>
<circle cx="143.78" cy="395.39" r="2.6" fill="#fff" stroke="#000" stroke-width="1.35"/>
<circle cx="154.34" cy="405.86" r="2.6" fill="#fff" stroke="#000" stroke-width="1.35"/>
<circle cx="164.9" cy="398.25" r="2.6" fill="#fff" stroke="#000" stroke-width="1.35"/>
<circle cx="175.46" cy="403" r="2.6" fill="#fff" stroke="#000" stroke-width="1.35"/>
<circle cx="186.02" cy="399.67" r="2.6" fill="#fff" stroke="#000" stroke-width="1.35"/>
<circle cx="196.58" cy="405.38" r="2.6" fill="#fff" stroke="#000" stroke-width="1.35"/>
<circle cx="207.14" cy="431.07" r="2.6" fill="#fff" stroke="#000" stroke-width="1.35"/>
<circle cx="217.7" cy="442.01" r="2.6" fill="#fff" stroke="#000" stroke-width="1.35"/>
<circle cx="228.26" cy="432.02" r="2.6" fill="#fff" stroke="#000" stroke-width="1.35"/>
<circle cx="238.82" cy="442.48" r="2.6" fill="#fff" stroke="#000" stroke-width="1.35"/>
<circle cx="249.38" cy="450.09" r="2.6" fill="#fff" stroke="#000" stroke-width="1.35"/>
<circle cx="259.94" cy="435.82" r="2.6" fill="#fff" stroke="#000" stroke-width="1.35"/>
<circle cx="270.5" cy="450.57" r="2.6" fill="#fff" stroke="#000" stroke-width="1.35"/>
<circle cx="281.06" cy="452" r="2.6" fill="#fff" stroke="#000" stroke-width="1.35"/>
<circle cx="291.62" cy="445.34" r="2.6" fill="#fff" stroke="#000" stroke-width="1.35"/>
<circle cx="302.18" cy="447.72" r="2.6" fill="#fff" stroke="#000" stroke-width="1.35"/>
<line x1="59.3" y1="386.83" x2="59.3" y2="391.59" stroke="#000" stroke-width="1.35"/>
<line x1="56.5" y1="386.83" x2="62.1" y2="386.83" stroke="#000" stroke-width="1.35"/>
<line x1="56.5" y1="391.59" x2="62.1" y2="391.59" stroke="#000" stroke-width="1.35"/>
<line x1="69.86" y1="387.78" x2="69.86" y2="392.54" stroke="#000" stroke-width="1.35"/>
<line x1="67.06" y1="387.78" x2="72.66" y2="387.78" stroke="#000" stroke-width="1.35"/>
<line x1="67.06" y1="392.54" x2="72.66" y2="392.54" stroke="#000" stroke-width="1.35"/>
<line x1="80.42" y1="383.98" x2="80.42" y2="392.54" stroke="#000" stroke-width="1.35"/>
<line x1="77.62" y1="383.98" x2="83.22" y2="383.98" stroke="#000" stroke-width="1.35"/>
<line x1="77.62" y1="392.54" x2="83.22" y2="392.54" stroke="#000" stroke-width="1.35"/>
<line x1="90.98" y1="383.5" x2="90.98" y2="396.82" stroke="#000" stroke-width="1.35"/>
<line x1="88.18" y1="383.5" x2="93.78" y2="383.5" stroke="#000" stroke-width="1.35"/>
<line x1="88.18" y1="396.82" x2="93.78" y2="396.82" stroke="#000" stroke-width="1.35"/>
<line x1="101.54" y1="385.88" x2="101.54" y2="396.34" stroke="#000" stroke-width="1.35"/>
<line x1="98.74" y1="385.88" x2="104.34" y2="385.88" stroke="#000" stroke-width="1.35"/>
<line x1="98.74" y1="396.34" x2="104.34" y2="396.34" stroke="#000" stroke-width="1.35"/>
<line x1="112.1" y1="382.07" x2="112.1" y2="392.54" stroke="#000" stroke-width="1.35"/>
<line x1="109.3" y1="382.07" x2="114.9" y2="382.07" stroke="#000" stroke-width="1.35"/>
<line x1="109.3" y1="392.54" x2="114.9" y2="392.54" stroke="#000" stroke-width="1.35"/>
<line x1="122.66" y1="373.99" x2="122.66" y2="388.26" stroke="#000" stroke-width="1.35"/>
<line x1="119.86" y1="373.99" x2="125.46" y2="373.99" stroke="#000" stroke-width="1.35"/>
<line x1="119.86" y1="388.26" x2="125.46" y2="388.26" stroke="#000" stroke-width="1.35"/>
<line x1="133.22" y1="381.6" x2="133.22" y2="400.63" stroke="#000" stroke-width="1.35"/>
<line x1="130.42" y1="381.6" x2="136.02" y2="381.6" stroke="#000" stroke-width="1.35"/>
<line x1="130.42" y1="400.63" x2="136.02" y2="400.63" stroke="#000" stroke-width="1.35"/>
<line x1="143.78" y1="391.59" x2="143.78" y2="410.61" stroke="#000" stroke-width="1.35"/>
<line x1="140.98" y1="391.59" x2="146.58" y2="391.59" stroke="#000" stroke-width="1.35"/>
<line x1="140.98" y1="410.61" x2="146.58" y2="410.61" stroke="#000" stroke-width="1.35"/>
<line x1="154.34" y1="398.72" x2="154.34" y2="422.51" stroke="#000" stroke-width="1.35"/>
<line x1="151.54" y1="398.72" x2="157.14" y2="398.72" stroke="#000" stroke-width="1.35"/>
<line x1="151.54" y1="422.51" x2="157.14" y2="422.51" stroke="#000" stroke-width="1.35"/>
<line x1="164.9" y1="420.13" x2="164.9" y2="432.5" stroke="#000" stroke-width="1.35"/>
<line x1="162.1" y1="420.13" x2="167.7" y2="420.13" stroke="#000" stroke-width="1.35"/>
<line x1="162.1" y1="432.5" x2="167.7" y2="432.5" stroke="#000" stroke-width="1.35"/>
<line x1="175.46" y1="405.38" x2="175.46" y2="421.55" stroke="#000" stroke-width="1.35"/>
<line x1="172.66" y1="405.38" x2="178.26" y2="405.38" stroke="#000" stroke-width="1.35"/>
<line x1="172.66" y1="421.55" x2="178.26" y2="421.55" stroke="#000" stroke-width="1.35"/>
<line x1="186.02" y1="403" x2="186.02" y2="411.57" stroke="#000" stroke-width="1.35"/>
<line x1="183.22" y1="403" x2="188.82" y2="403" stroke="#000" stroke-width="1.35"/>
<line x1="183.22" y1="411.57" x2="188.82" y2="411.57" stroke="#000" stroke-width="1.35"/>
<line x1="196.58" y1="412.52" x2="196.58" y2="426.79" stroke="#000" stroke-width="1.35"/>
<line x1="193.78" y1="412.52" x2="199.38" y2="412.52" stroke="#000" stroke-width="1.35"/>
<line x1="193.78" y1="426.79" x2="199.38" y2="426.79" stroke="#000" stroke-width="1.35"/>
<line x1="207.14" y1="425.36" x2="207.14" y2="437.73" stroke="#000" stroke-width="1.35"/>
<line x1="204.34" y1="425.36" x2="209.94" y2="425.36" stroke="#000" stroke-width="1.35"/>
<line x1="204.34" y1="437.73" x2="209.94" y2="437.73" stroke="#000" stroke-width="1.35"/>
<line x1="217.7" y1="441.53" x2="217.7" y2="446.29" stroke="#000" stroke-width="1.35"/>
<line x1="214.9" y1="441.53" x2="220.5" y2="441.53" stroke="#000" stroke-width="1.35"/>
<line x1="214.9" y1="446.29" x2="220.5" y2="446.29" stroke="#000" stroke-width="1.35"/>
<line x1="228.26" y1="436.3" x2="228.26" y2="441.06" stroke="#000" stroke-width="1.35"/>
<line x1="225.46" y1="436.3" x2="231.06" y2="436.3" stroke="#000" stroke-width="1.35"/>
<line x1="225.46" y1="441.06" x2="231.06" y2="441.06" stroke="#000" stroke-width="1.35"/>
<line x1="238.82" y1="444.86" x2="238.82" y2="449.62" stroke="#000" stroke-width="1.35"/>
<line x1="236.02" y1="444.86" x2="241.62" y2="444.86" stroke="#000" stroke-width="1.35"/>
<line x1="236.02" y1="449.62" x2="241.62" y2="449.62" stroke="#000" stroke-width="1.35"/>
<line x1="249.38" y1="446.76" x2="249.38" y2="450.57" stroke="#000" stroke-width="1.35"/>
<line x1="246.58" y1="446.76" x2="252.18" y2="446.76" stroke="#000" stroke-width="1.35"/>
<line x1="246.58" y1="450.57" x2="252.18" y2="450.57" stroke="#000" stroke-width="1.35"/>
<line x1="259.94" y1="445.81" x2="259.94" y2="450.57" stroke="#000" stroke-width="1.35"/>
<line x1="257.14" y1="445.81" x2="262.74" y2="445.81" stroke="#000" stroke-width="1.35"/>
<line x1="257.14" y1="450.57" x2="262.74" y2="450.57" stroke="#000" stroke-width="1.35"/>
<line x1="270.5" y1="436.78" x2="270.5" y2="444.39" stroke="#000" stroke-width="1.35"/>
<line x1="267.7" y1="436.78" x2="273.3" y2="436.78" stroke="#000" stroke-width="1.35"/>
<line x1="267.7" y1="444.39" x2="273.3" y2="444.39" stroke="#000" stroke-width="1.35"/>
<line x1="281.06" y1="447.72" x2="281.06" y2="451.52" stroke="#000" stroke-width="1.35"/>
<line x1="278.26" y1="447.72" x2="283.86" y2="447.72" stroke="#000" stroke-width="1.35"/>
<line x1="278.26" y1="451.52" x2="283.86" y2="451.52" stroke="#000" stroke-width="1.35"/>
<line x1="291.62" y1="443.44" x2="291.62" y2="447.24" stroke="#000" stroke-width="1.35"/>
<line x1="288.82" y1="443.44" x2="294.42" y2="443.44" stroke="#000" stroke-width="1.35"/>
<line x1="288.82" y1="447.24" x2="294.42" y2="447.24" stroke="#000" stroke-width="1.35"/>
<line x1="302.18" y1="444.86" x2="302.18" y2="450.57" stroke="#000" stroke-width="1.35"/>
<line x1="299.38" y1="444.86" x2="304.98" y2="444.86" stroke="#000" stroke-width="1.35"/>
<line x1="299.38" y1="450.57" x2="304.98" y2="450.57" stroke="#000" stroke-width="1.35"/>
<polyline points="59.3,389.21 69.86,390.16 80.42,388.26 90.98,390.16 101.54,391.11 112.1,387.31 122.66,381.12 133.22,391.11 143.78,401.1 154.34,410.61 164.9,426.31 175.46,413.47 186.02,407.28 196.58,419.65 207.14,431.54 217.7,443.91 228.26,438.68 238.82,447.24 249.38,448.67 259.94,448.19 270.5,440.58 281.06,449.62 291.62,445.34 302.18,447.72" fill="none" stroke="#000" stroke-width="1.35"/>
<rect x="56.5" y="386.41" width="5.6" height="5.6" rx="0.6" fill="#6b6b6b" stroke="#000" stroke-width="1.35"/>
<rect x="67.06" y="387.36" width="5.6" height="5.6" rx="0.6" fill="#6b6b6b" stroke="#000" stroke-width="1.35"/>
<rect x="77.62" y="385.46" width="5.6" height="5.6" rx="0.6" fill="#6b6b6b" stroke="#000" stroke-width="1.35"/>
<rect x="88.18" y="387.36" width="5.6" height="5.6" rx="0.6" fill="#6b6b6b" stroke="#000" stroke-width="1.35"/>
<rect x="98.74" y="388.31" width="5.6" height="5.6" rx="0.6" fill="#6b6b6b" stroke="#000" stroke-width="1.35"/>
<rect x="109.3" y="384.51" width="5.6" height="5.6" rx="0.6" fill="#6b6b6b" stroke="#000" stroke-width="1.35"/>
<rect x="119.86" y="378.32" width="5.6" height="5.6" rx="0.6" fill="#6b6b6b" stroke="#000" stroke-width="1.35"/>
<rect x="130.42" y="388.31" width="5.6" height="5.6" rx="0.6" fill="#6b6b6b" stroke="#000" stroke-width="1.35"/>
<rect x="140.98" y="398.3" width="5.6" height="5.6" rx="0.6" fill="#6b6b6b" stroke="#000" stroke-width="1.35"/>
<rect x="151.54" y="407.81" width="5.6" height="5.6" rx="0.6" fill="#6b6b6b" stroke="#000" stroke-width="1.35"/>
<rect x="162.1" y="423.51" width="5.6" height="5.6" rx="0.6" fill="#6b6b6b" stroke="#000" stroke-width="1.35"/>
<rect x="172.66" y="410.67" width="5.6" height="5.6" rx="0.6" fill="#6b6b6b" stroke="#000" stroke-width="1.35"/>
<rect x="183.22" y="404.48" width="5.6" height="5.6" rx="0.6" fill="#6b6b6b" stroke="#000" stroke-width="1.35"/>
<rect x="193.78" y="416.85" width="5.6" height="5.6" rx="0.6" fill="#6b6b6b" stroke="#000" stroke-width="1.35"/>
<rect x="204.34" y="428.74" width="5.6" height="5.6" rx="0.6" fill="#6b6b6b" stroke="#000" stroke-width="1.35"/>
<rect x="214.9" y="441.11" width="5.6" height="5.6" rx="0.6" fill="#6b6b6b" stroke="#000" stroke-width="1.35"/>
<rect x="225.46" y="435.88" width="5.6" height="5.6" rx="0.6" fill="#6b6b6b" stroke="#000" stroke-width="1.35"/>
<rect x="236.02" y="444.44" width="5.6" height="5.6" rx="0.6" fill="#6b6b6b" stroke="#000" stroke-width="1.35"/>
<rect x="246.58" y="445.87" width="5.6" height="5.6" rx="0.6" fill="#6b6b6b" stroke="#000" stroke-width="1.35"/>
<rect x="257.14" y="445.39" width="5.6" height="5.6" rx="0.6" fill="#6b6b6b" stroke="#000" stroke-width="1.35"/>
<rect x="267.7" y="437.78" width="5.6" height="5.6" rx="0.6" fill="#6b6b6b" stroke="#000" stroke-width="1.35"/>
<rect x="278.26" y="446.82" width="5.6" height="5.6" rx="0.6" fill="#6b6b6b" stroke="#000" stroke-width="1.35"/>
<rect x="288.82" y="442.54" width="5.6" height="5.6" rx="0.6" fill="#6b6b6b" stroke="#000" stroke-width="1.35"/>
<rect x="299.38" y="444.92" width="5.6" height="5.6" rx="0.6" fill="#6b6b6b" stroke="#000" stroke-width="1.35"/>
<text transform="translate(344.18 299.5) scale(1.1000 1)" font-size="17" font-weight="bold" fill="#000">D</text>
<text transform="translate(397.96 306.8) scale(1.1280 1)" font-size="14.2" font-weight="bold" fill="#000">Day2</text>
<rect x="398.2" y="311.4" width="128.5" height="15" fill="#cbcbcb"/>
<rect x="398.2" y="311" width="257.4" height="15.4" fill="none" stroke="#808080" stroke-width="1.3"/>
<line x1="526.7" y1="311.4" x2="526.7" y2="326.4" stroke="#333" stroke-width="1.1"/>
<text transform="translate(434.7 323.3) scale(1.0351 1)" font-size="10.3" fill="#000">Dark phase</text>
<text transform="translate(563.55 323.3) scale(1.0296 1)" font-size="10.3" fill="#000">Light phase</text>
<line x1="398.2" y1="311" x2="398.2" y2="455.7" stroke="#000" stroke-width="1.5"/>
<line x1="397.5" y1="455" x2="658.2" y2="455" stroke="#000" stroke-width="1.5"/>
<line x1="393.8" y1="455" x2="398.2" y2="455" stroke="#000" stroke-width="1.4"/>
<text transform="translate(385.67 459.3) scale(1.0400 1)" font-size="12" fill="#000">0</text>
<line x1="393.8" y1="407.13" x2="398.2" y2="407.13" stroke="#000" stroke-width="1.4"/>
<text transform="translate(371.82 411.43) scale(1.0400 1)" font-size="12" fill="#000">100</text>
<line x1="393.8" y1="359.27" x2="398.2" y2="359.27" stroke="#000" stroke-width="1.4"/>
<text transform="translate(371.82 363.57) scale(1.0400 1)" font-size="12" fill="#000">200</text>
<line x1="393.8" y1="311.4" x2="398.2" y2="311.4" stroke="#000" stroke-width="1.4"/>
<text transform="translate(371.82 315.7) scale(1.0400 1)" font-size="12" fill="#000">300</text>
<line x1="405.2" y1="455" x2="405.2" y2="459.7" stroke="#000" stroke-width="1.4"/>
<text transform="translate(398.74 471.8) scale(1.0400 1)" font-size="11.7" fill="#000">20</text>
<line x1="447.5" y1="455" x2="447.5" y2="459.7" stroke="#000" stroke-width="1.4"/>
<text transform="translate(444.47 471.8) scale(1.0400 1)" font-size="11.7" fill="#000">0</text>
<line x1="489.8" y1="455" x2="489.8" y2="459.7" stroke="#000" stroke-width="1.4"/>
<text transform="translate(486.8 471.8) scale(1.0400 1)" font-size="11.7" fill="#000">4</text>
<line x1="532.3" y1="455" x2="532.3" y2="459.7" stroke="#000" stroke-width="1.4"/>
<text transform="translate(529.24 471.8) scale(1.0400 1)" font-size="11.7" fill="#000">8</text>
<line x1="574.8" y1="455" x2="574.8" y2="459.7" stroke="#000" stroke-width="1.4"/>
<text transform="translate(568.24 471.8) scale(1.0400 1)" font-size="11.7" fill="#000">12</text>
<line x1="617.2" y1="455" x2="617.2" y2="459.7" stroke="#000" stroke-width="1.4"/>
<text transform="translate(610.61 471.8) scale(1.0400 1)" font-size="11.7" fill="#000">16</text>
<line x1="657.6" y1="455" x2="657.6" y2="459.7" stroke="#000" stroke-width="1.4"/>
<text transform="translate(651.14 471.8) scale(1.0400 1)" font-size="11.7" fill="#000">20</text>
<text transform="translate(482.8 485.4) scale(1.1165 1)" font-size="10.7" fill="#000">Clock time (hour)</text>
<text transform="translate(368 461.57) rotate(-90) scale(1.0023 1)" font-size="13.4" fill="#000">Total distance traveled (m)</text>
<line x1="609.6" y1="339.2" x2="625" y2="339.2" stroke="#000" stroke-width="1.35"/>
<circle cx="617.3" cy="339.2" r="2.85" fill="#fff" stroke="#000" stroke-width="1.3"/>
<text transform="translate(633.93 343.9) scale(1.0000 1)" font-size="11.5" fill="#000">Ctrl</text>
<line x1="609.6" y1="354.2" x2="625" y2="354.2" stroke="#000" stroke-width="1.35"/>
<rect x="614.6" y="351.6" width="5.4" height="5.2" rx="0.6" fill="#6b6b6b" stroke="#000" stroke-width="1.3"/>
<text transform="translate(633.58 358.9) scale(1.0000 1)" font-size="11.5" fill="#000">MS</text>
<line x1="405.3" y1="395.52" x2="405.3" y2="414.67" stroke="#000" stroke-width="1.35"/>
<line x1="402.5" y1="395.52" x2="408.1" y2="395.52" stroke="#000" stroke-width="1.35"/>
<line x1="402.5" y1="414.67" x2="408.1" y2="414.67" stroke="#000" stroke-width="1.35"/>
<line x1="415.87" y1="373.51" x2="415.87" y2="396.48" stroke="#000" stroke-width="1.35"/>
<line x1="413.07" y1="373.51" x2="418.67" y2="373.51" stroke="#000" stroke-width="1.35"/>
<line x1="413.07" y1="396.48" x2="418.67" y2="396.48" stroke="#000" stroke-width="1.35"/>
<line x1="426.44" y1="363.45" x2="426.44" y2="387.39" stroke="#000" stroke-width="1.35"/>
<line x1="423.64" y1="363.45" x2="429.24" y2="363.45" stroke="#000" stroke-width="1.35"/>
<line x1="423.64" y1="387.39" x2="429.24" y2="387.39" stroke="#000" stroke-width="1.35"/>
<line x1="437.01" y1="359.15" x2="437.01" y2="384.99" stroke="#000" stroke-width="1.35"/>
<line x1="434.21" y1="359.15" x2="439.81" y2="359.15" stroke="#000" stroke-width="1.35"/>
<line x1="434.21" y1="384.99" x2="439.81" y2="384.99" stroke="#000" stroke-width="1.35"/>
<line x1="447.58" y1="370.63" x2="447.58" y2="399.35" stroke="#000" stroke-width="1.35"/>
<line x1="444.78" y1="370.63" x2="450.38" y2="370.63" stroke="#000" stroke-width="1.35"/>
<line x1="444.78" y1="399.35" x2="450.38" y2="399.35" stroke="#000" stroke-width="1.35"/>
<line x1="458.15" y1="354.84" x2="458.15" y2="389.3" stroke="#000" stroke-width="1.35"/>
<line x1="455.35" y1="354.84" x2="460.95" y2="354.84" stroke="#000" stroke-width="1.35"/>
<line x1="455.35" y1="389.3" x2="460.95" y2="389.3" stroke="#000" stroke-width="1.35"/>
<line x1="468.72" y1="354.84" x2="468.72" y2="388.34" stroke="#000" stroke-width="1.35"/>
<line x1="465.92" y1="354.84" x2="471.52" y2="354.84" stroke="#000" stroke-width="1.35"/>
<line x1="465.92" y1="388.34" x2="471.52" y2="388.34" stroke="#000" stroke-width="1.35"/>
<line x1="479.29" y1="376.86" x2="479.29" y2="413.23" stroke="#000" stroke-width="1.35"/>
<line x1="476.49" y1="376.86" x2="482.09" y2="376.86" stroke="#000" stroke-width="1.35"/>
<line x1="476.49" y1="413.23" x2="482.09" y2="413.23" stroke="#000" stroke-width="1.35"/>
<line x1="489.86" y1="396.48" x2="489.86" y2="427.12" stroke="#000" stroke-width="1.35"/>
<line x1="487.06" y1="396.48" x2="492.66" y2="396.48" stroke="#000" stroke-width="1.35"/>
<line x1="487.06" y1="427.12" x2="492.66" y2="427.12" stroke="#000" stroke-width="1.35"/>
<line x1="500.43" y1="420.41" x2="500.43" y2="444.35" stroke="#000" stroke-width="1.35"/>
<line x1="497.63" y1="420.41" x2="503.23" y2="420.41" stroke="#000" stroke-width="1.35"/>
<line x1="497.63" y1="444.35" x2="503.23" y2="444.35" stroke="#000" stroke-width="1.35"/>
<line x1="511" y1="395.52" x2="511" y2="415.63" stroke="#000" stroke-width="1.35"/>
<line x1="508.2" y1="395.52" x2="513.8" y2="395.52" stroke="#000" stroke-width="1.35"/>
<line x1="508.2" y1="415.63" x2="513.8" y2="415.63" stroke="#000" stroke-width="1.35"/>
<line x1="521.57" y1="389.3" x2="521.57" y2="408.45" stroke="#000" stroke-width="1.35"/>
<line x1="518.77" y1="389.3" x2="524.37" y2="389.3" stroke="#000" stroke-width="1.35"/>
<line x1="518.77" y1="408.45" x2="524.37" y2="408.45" stroke="#000" stroke-width="1.35"/>
<line x1="532.14" y1="411.32" x2="532.14" y2="430.47" stroke="#000" stroke-width="1.35"/>
<line x1="529.34" y1="411.32" x2="534.94" y2="411.32" stroke="#000" stroke-width="1.35"/>
<line x1="529.34" y1="430.47" x2="534.94" y2="430.47" stroke="#000" stroke-width="1.35"/>
<line x1="542.71" y1="420.41" x2="542.71" y2="432.86" stroke="#000" stroke-width="1.35"/>
<line x1="539.91" y1="420.41" x2="545.51" y2="420.41" stroke="#000" stroke-width="1.35"/>
<line x1="539.91" y1="432.86" x2="545.51" y2="432.86" stroke="#000" stroke-width="1.35"/>
<line x1="553.28" y1="433.34" x2="553.28" y2="437.17" stroke="#000" stroke-width="1.35"/>
<line x1="550.48" y1="433.34" x2="556.08" y2="433.34" stroke="#000" stroke-width="1.35"/>
<line x1="550.48" y1="437.17" x2="556.08" y2="437.17" stroke="#000" stroke-width="1.35"/>
<line x1="563.85" y1="447.22" x2="563.85" y2="450.09" stroke="#000" stroke-width="1.35"/>
<line x1="561.05" y1="447.22" x2="566.65" y2="447.22" stroke="#000" stroke-width="1.35"/>
<line x1="561.05" y1="450.09" x2="566.65" y2="450.09" stroke="#000" stroke-width="1.35"/>
<line x1="574.42" y1="441.48" x2="574.42" y2="445.31" stroke="#000" stroke-width="1.35"/>
<line x1="571.62" y1="441.48" x2="577.22" y2="441.48" stroke="#000" stroke-width="1.35"/>
<line x1="571.62" y1="445.31" x2="577.22" y2="445.31" stroke="#000" stroke-width="1.35"/>
<line x1="584.99" y1="439.56" x2="584.99" y2="449.13" stroke="#000" stroke-width="1.35"/>
<line x1="582.19" y1="439.56" x2="587.79" y2="439.56" stroke="#000" stroke-width="1.35"/>
<line x1="582.19" y1="449.13" x2="587.79" y2="449.13" stroke="#000" stroke-width="1.35"/>
<line x1="595.56" y1="447.22" x2="595.56" y2="450.09" stroke="#000" stroke-width="1.35"/>
<line x1="592.76" y1="447.22" x2="598.36" y2="447.22" stroke="#000" stroke-width="1.35"/>
<line x1="592.76" y1="450.09" x2="598.36" y2="450.09" stroke="#000" stroke-width="1.35"/>
<line x1="606.13" y1="449.13" x2="606.13" y2="452.01" stroke="#000" stroke-width="1.35"/>
<line x1="603.33" y1="449.13" x2="608.93" y2="449.13" stroke="#000" stroke-width="1.35"/>
<line x1="603.33" y1="452.01" x2="608.93" y2="452.01" stroke="#000" stroke-width="1.35"/>
<line x1="616.7" y1="449.13" x2="616.7" y2="452.01" stroke="#000" stroke-width="1.35"/>
<line x1="613.9" y1="449.13" x2="619.5" y2="449.13" stroke="#000" stroke-width="1.35"/>
<line x1="613.9" y1="452.01" x2="619.5" y2="452.01" stroke="#000" stroke-width="1.35"/>
<line x1="627.27" y1="444.35" x2="627.27" y2="447.22" stroke="#000" stroke-width="1.35"/>
<line x1="624.47" y1="444.35" x2="630.07" y2="444.35" stroke="#000" stroke-width="1.35"/>
<line x1="624.47" y1="447.22" x2="630.07" y2="447.22" stroke="#000" stroke-width="1.35"/>
<line x1="637.84" y1="449.13" x2="637.84" y2="452.01" stroke="#000" stroke-width="1.35"/>
<line x1="635.04" y1="449.13" x2="640.64" y2="449.13" stroke="#000" stroke-width="1.35"/>
<line x1="635.04" y1="452.01" x2="640.64" y2="452.01" stroke="#000" stroke-width="1.35"/>
<line x1="648.41" y1="441.95" x2="648.41" y2="445.78" stroke="#000" stroke-width="1.35"/>
<line x1="645.61" y1="441.95" x2="651.21" y2="441.95" stroke="#000" stroke-width="1.35"/>
<line x1="645.61" y1="445.78" x2="651.21" y2="445.78" stroke="#000" stroke-width="1.35"/>
<polyline points="405.3,405.1 415.87,384.99 426.44,375.42 437.01,372.07 447.58,384.99 458.15,372.07 468.72,371.59 479.29,395.05 489.86,411.8 500.43,432.38 511,405.58 521.57,398.87 532.14,420.89 542.71,426.64 553.28,435.25 563.85,448.66 574.42,443.39 584.99,444.35 595.56,448.66 606.13,450.57 616.7,450.57 627.27,445.78 637.84,450.57 648.41,443.87" fill="none" stroke="#000" stroke-width="1.35"/>
<circle cx="405.3" cy="405.1" r="2.6" fill="#fff" stroke="#000" stroke-width="1.35"/>
<circle cx="415.87" cy="384.99" r="2.6" fill="#fff" stroke="#000" stroke-width="1.35"/>
<circle cx="426.44" cy="375.42" r="2.6" fill="#fff" stroke="#000" stroke-width="1.35"/>
<circle cx="437.01" cy="372.07" r="2.6" fill="#fff" stroke="#000" stroke-width="1.35"/>
<circle cx="447.58" cy="384.99" r="2.6" fill="#fff" stroke="#000" stroke-width="1.35"/>
<circle cx="458.15" cy="372.07" r="2.6" fill="#fff" stroke="#000" stroke-width="1.35"/>
<circle cx="468.72" cy="371.59" r="2.6" fill="#fff" stroke="#000" stroke-width="1.35"/>
<circle cx="479.29" cy="395.05" r="2.6" fill="#fff" stroke="#000" stroke-width="1.35"/>
<circle cx="489.86" cy="411.8" r="2.6" fill="#fff" stroke="#000" stroke-width="1.35"/>
<circle cx="500.43" cy="432.38" r="2.6" fill="#fff" stroke="#000" stroke-width="1.35"/>
<circle cx="511" cy="405.58" r="2.6" fill="#fff" stroke="#000" stroke-width="1.35"/>
<circle cx="521.57" cy="398.87" r="2.6" fill="#fff" stroke="#000" stroke-width="1.35"/>
<circle cx="532.14" cy="420.89" r="2.6" fill="#fff" stroke="#000" stroke-width="1.35"/>
<circle cx="542.71" cy="426.64" r="2.6" fill="#fff" stroke="#000" stroke-width="1.35"/>
<circle cx="553.28" cy="435.25" r="2.6" fill="#fff" stroke="#000" stroke-width="1.35"/>
<circle cx="563.85" cy="448.66" r="2.6" fill="#fff" stroke="#000" stroke-width="1.35"/>
<circle cx="574.42" cy="443.39" r="2.6" fill="#fff" stroke="#000" stroke-width="1.35"/>
<circle cx="584.99" cy="444.35" r="2.6" fill="#fff" stroke="#000" stroke-width="1.35"/>
<circle cx="595.56" cy="448.66" r="2.6" fill="#fff" stroke="#000" stroke-width="1.35"/>
<circle cx="606.13" cy="450.57" r="2.6" fill="#fff" stroke="#000" stroke-width="1.35"/>
<circle cx="616.7" cy="450.57" r="2.6" fill="#fff" stroke="#000" stroke-width="1.35"/>
<circle cx="627.27" cy="445.78" r="2.6" fill="#fff" stroke="#000" stroke-width="1.35"/>
<circle cx="637.84" cy="450.57" r="2.6" fill="#fff" stroke="#000" stroke-width="1.35"/>
<circle cx="648.41" cy="443.87" r="2.6" fill="#fff" stroke="#000" stroke-width="1.35"/>
<line x1="405.3" y1="406.53" x2="405.3" y2="412.28" stroke="#000" stroke-width="1.35"/>
<line x1="402.5" y1="406.53" x2="408.1" y2="406.53" stroke="#000" stroke-width="1.35"/>
<line x1="402.5" y1="412.28" x2="408.1" y2="412.28" stroke="#000" stroke-width="1.35"/>
<line x1="415.87" y1="378.77" x2="415.87" y2="395.05" stroke="#000" stroke-width="1.35"/>
<line x1="413.07" y1="378.77" x2="418.67" y2="378.77" stroke="#000" stroke-width="1.35"/>
<line x1="413.07" y1="395.05" x2="418.67" y2="395.05" stroke="#000" stroke-width="1.35"/>
<line x1="426.44" y1="373.98" x2="426.44" y2="384.51" stroke="#000" stroke-width="1.35"/>
<line x1="423.64" y1="373.98" x2="429.24" y2="373.98" stroke="#000" stroke-width="1.35"/>
<line x1="423.64" y1="384.51" x2="429.24" y2="384.51" stroke="#000" stroke-width="1.35"/>
<line x1="437.01" y1="382.12" x2="437.01" y2="394.57" stroke="#000" stroke-width="1.35"/>
<line x1="434.21" y1="382.12" x2="439.81" y2="382.12" stroke="#000" stroke-width="1.35"/>
<line x1="434.21" y1="394.57" x2="439.81" y2="394.57" stroke="#000" stroke-width="1.35"/>
<line x1="447.58" y1="371.59" x2="447.58" y2="390.74" stroke="#000" stroke-width="1.35"/>
<line x1="444.78" y1="371.59" x2="450.38" y2="371.59" stroke="#000" stroke-width="1.35"/>
<line x1="444.78" y1="390.74" x2="450.38" y2="390.74" stroke="#000" stroke-width="1.35"/>
<line x1="458.15" y1="368.72" x2="458.15" y2="382.12" stroke="#000" stroke-width="1.35"/>
<line x1="455.35" y1="368.72" x2="460.95" y2="368.72" stroke="#000" stroke-width="1.35"/>
<line x1="455.35" y1="382.12" x2="460.95" y2="382.12" stroke="#000" stroke-width="1.35"/>
<line x1="468.72" y1="386.43" x2="468.72" y2="402.7" stroke="#000" stroke-width="1.35"/>
<line x1="465.92" y1="386.43" x2="471.52" y2="386.43" stroke="#000" stroke-width="1.35"/>
<line x1="465.92" y1="402.7" x2="471.52" y2="402.7" stroke="#000" stroke-width="1.35"/>
<line x1="479.29" y1="397.44" x2="479.29" y2="420.41" stroke="#000" stroke-width="1.35"/>
<line x1="476.49" y1="397.44" x2="482.09" y2="397.44" stroke="#000" stroke-width="1.35"/>
<line x1="476.49" y1="420.41" x2="482.09" y2="420.41" stroke="#000" stroke-width="1.35"/>
<line x1="489.86" y1="419.46" x2="489.86" y2="433.82" stroke="#000" stroke-width="1.35"/>
<line x1="487.06" y1="419.46" x2="492.66" y2="419.46" stroke="#000" stroke-width="1.35"/>
<line x1="487.06" y1="433.82" x2="492.66" y2="433.82" stroke="#000" stroke-width="1.35"/>
<line x1="500.43" y1="422.33" x2="500.43" y2="434.77" stroke="#000" stroke-width="1.35"/>
<line x1="497.63" y1="422.33" x2="503.23" y2="422.33" stroke="#000" stroke-width="1.35"/>
<line x1="497.63" y1="434.77" x2="503.23" y2="434.77" stroke="#000" stroke-width="1.35"/>
<line x1="511" y1="423.77" x2="511" y2="433.34" stroke="#000" stroke-width="1.35"/>
<line x1="508.2" y1="423.77" x2="513.8" y2="423.77" stroke="#000" stroke-width="1.35"/>
<line x1="508.2" y1="433.34" x2="513.8" y2="433.34" stroke="#000" stroke-width="1.35"/>
<line x1="521.57" y1="384.04" x2="521.57" y2="393.61" stroke="#000" stroke-width="1.35"/>
<line x1="518.77" y1="384.04" x2="524.37" y2="384.04" stroke="#000" stroke-width="1.35"/>
<line x1="518.77" y1="393.61" x2="524.37" y2="393.61" stroke="#000" stroke-width="1.35"/>
<line x1="532.14" y1="410.84" x2="532.14" y2="426.16" stroke="#000" stroke-width="1.35"/>
<line x1="529.34" y1="410.84" x2="534.94" y2="410.84" stroke="#000" stroke-width="1.35"/>
<line x1="529.34" y1="426.16" x2="534.94" y2="426.16" stroke="#000" stroke-width="1.35"/>
<line x1="542.71" y1="430.47" x2="542.71" y2="435.25" stroke="#000" stroke-width="1.35"/>
<line x1="539.91" y1="430.47" x2="545.51" y2="430.47" stroke="#000" stroke-width="1.35"/>
<line x1="539.91" y1="435.25" x2="545.51" y2="435.25" stroke="#000" stroke-width="1.35"/>
<line x1="553.28" y1="432.86" x2="553.28" y2="437.65" stroke="#000" stroke-width="1.35"/>
<line x1="550.48" y1="432.86" x2="556.08" y2="432.86" stroke="#000" stroke-width="1.35"/>
<line x1="550.48" y1="437.65" x2="556.08" y2="437.65" stroke="#000" stroke-width="1.35"/>
<line x1="563.85" y1="447.22" x2="563.85" y2="450.09" stroke="#000" stroke-width="1.35"/>
<line x1="561.05" y1="447.22" x2="566.65" y2="447.22" stroke="#000" stroke-width="1.35"/>
<line x1="561.05" y1="450.09" x2="566.65" y2="450.09" stroke="#000" stroke-width="1.35"/>
<line x1="574.42" y1="436.21" x2="574.42" y2="441" stroke="#000" stroke-width="1.35"/>
<line x1="571.62" y1="436.21" x2="577.22" y2="436.21" stroke="#000" stroke-width="1.35"/>
<line x1="571.62" y1="441" x2="577.22" y2="441" stroke="#000" stroke-width="1.35"/>
<line x1="584.99" y1="438.13" x2="584.99" y2="450.57" stroke="#000" stroke-width="1.35"/>
<line x1="582.19" y1="438.13" x2="587.79" y2="438.13" stroke="#000" stroke-width="1.35"/>
<line x1="582.19" y1="450.57" x2="587.79" y2="450.57" stroke="#000" stroke-width="1.35"/>
<line x1="595.56" y1="447.22" x2="595.56" y2="450.09" stroke="#000" stroke-width="1.35"/>
<line x1="592.76" y1="447.22" x2="598.36" y2="447.22" stroke="#000" stroke-width="1.35"/>
<line x1="592.76" y1="450.09" x2="598.36" y2="450.09" stroke="#000" stroke-width="1.35"/>
<line x1="606.13" y1="445.31" x2="606.13" y2="449.13" stroke="#000" stroke-width="1.35"/>
<line x1="603.33" y1="445.31" x2="608.93" y2="445.31" stroke="#000" stroke-width="1.35"/>
<line x1="603.33" y1="449.13" x2="608.93" y2="449.13" stroke="#000" stroke-width="1.35"/>
<line x1="616.7" y1="448.18" x2="616.7" y2="451.05" stroke="#000" stroke-width="1.35"/>
<line x1="613.9" y1="448.18" x2="619.5" y2="448.18" stroke="#000" stroke-width="1.35"/>
<line x1="613.9" y1="451.05" x2="619.5" y2="451.05" stroke="#000" stroke-width="1.35"/>
<line x1="627.27" y1="441" x2="627.27" y2="444.83" stroke="#000" stroke-width="1.35"/>
<line x1="624.47" y1="441" x2="630.07" y2="441" stroke="#000" stroke-width="1.35"/>
<line x1="624.47" y1="444.83" x2="630.07" y2="444.83" stroke="#000" stroke-width="1.35"/>
<line x1="637.84" y1="449.13" x2="637.84" y2="452.01" stroke="#000" stroke-width="1.35"/>
<line x1="635.04" y1="449.13" x2="640.64" y2="449.13" stroke="#000" stroke-width="1.35"/>
<line x1="635.04" y1="452.01" x2="640.64" y2="452.01" stroke="#000" stroke-width="1.35"/>
<line x1="648.41" y1="445.78" x2="648.41" y2="449.61" stroke="#000" stroke-width="1.35"/>
<line x1="645.61" y1="445.78" x2="651.21" y2="445.78" stroke="#000" stroke-width="1.35"/>
<line x1="645.61" y1="449.61" x2="651.21" y2="449.61" stroke="#000" stroke-width="1.35"/>
<polyline points="405.3,409.41 415.87,386.91 426.44,379.25 437.01,388.34 447.58,381.16 458.15,375.42 468.72,394.57 479.29,408.93 489.86,426.64 500.43,428.55 511,428.55 521.57,388.82 532.14,418.5 542.71,432.86 553.28,435.25 563.85,448.66 574.42,438.6 584.99,444.35 595.56,448.66 606.13,447.22 616.7,449.61 627.27,442.91 637.84,450.57 648.41,447.7" fill="none" stroke="#000" stroke-width="1.35"/>
<rect x="402.5" y="406.61" width="5.6" height="5.6" rx="0.6" fill="#6b6b6b" stroke="#000" stroke-width="1.35"/>
<rect x="413.07" y="384.11" width="5.6" height="5.6" rx="0.6" fill="#6b6b6b" stroke="#000" stroke-width="1.35"/>
<rect x="423.64" y="376.45" width="5.6" height="5.6" rx="0.6" fill="#6b6b6b" stroke="#000" stroke-width="1.35"/>
<rect x="434.21" y="385.54" width="5.6" height="5.6" rx="0.6" fill="#6b6b6b" stroke="#000" stroke-width="1.35"/>
<rect x="444.78" y="378.36" width="5.6" height="5.6" rx="0.6" fill="#6b6b6b" stroke="#000" stroke-width="1.35"/>
<rect x="455.35" y="372.62" width="5.6" height="5.6" rx="0.6" fill="#6b6b6b" stroke="#000" stroke-width="1.35"/>
<rect x="465.92" y="391.77" width="5.6" height="5.6" rx="0.6" fill="#6b6b6b" stroke="#000" stroke-width="1.35"/>
<rect x="476.49" y="406.13" width="5.6" height="5.6" rx="0.6" fill="#6b6b6b" stroke="#000" stroke-width="1.35"/>
<rect x="487.06" y="423.84" width="5.6" height="5.6" rx="0.6" fill="#6b6b6b" stroke="#000" stroke-width="1.35"/>
<rect x="497.63" y="425.75" width="5.6" height="5.6" rx="0.6" fill="#6b6b6b" stroke="#000" stroke-width="1.35"/>
<rect x="508.2" y="425.75" width="5.6" height="5.6" rx="0.6" fill="#6b6b6b" stroke="#000" stroke-width="1.35"/>
<rect x="518.77" y="386.02" width="5.6" height="5.6" rx="0.6" fill="#6b6b6b" stroke="#000" stroke-width="1.35"/>
<rect x="529.34" y="415.7" width="5.6" height="5.6" rx="0.6" fill="#6b6b6b" stroke="#000" stroke-width="1.35"/>
<rect x="539.91" y="430.06" width="5.6" height="5.6" rx="0.6" fill="#6b6b6b" stroke="#000" stroke-width="1.35"/>
<rect x="550.48" y="432.45" width="5.6" height="5.6" rx="0.6" fill="#6b6b6b" stroke="#000" stroke-width="1.35"/>
<rect x="561.05" y="445.86" width="5.6" height="5.6" rx="0.6" fill="#6b6b6b" stroke="#000" stroke-width="1.35"/>
<rect x="571.62" y="435.8" width="5.6" height="5.6" rx="0.6" fill="#6b6b6b" stroke="#000" stroke-width="1.35"/>
<rect x="582.19" y="441.55" width="5.6" height="5.6" rx="0.6" fill="#6b6b6b" stroke="#000" stroke-width="1.35"/>
<rect x="592.76" y="445.86" width="5.6" height="5.6" rx="0.6" fill="#6b6b6b" stroke="#000" stroke-width="1.35"/>
<rect x="603.33" y="444.42" width="5.6" height="5.6" rx="0.6" fill="#6b6b6b" stroke="#000" stroke-width="1.35"/>
<rect x="613.9" y="446.81" width="5.6" height="5.6" rx="0.6" fill="#6b6b6b" stroke="#000" stroke-width="1.35"/>
<rect x="624.47" y="440.11" width="5.6" height="5.6" rx="0.6" fill="#6b6b6b" stroke="#000" stroke-width="1.35"/>
<rect x="635.04" y="447.77" width="5.6" height="5.6" rx="0.6" fill="#6b6b6b" stroke="#000" stroke-width="1.35"/>
<rect x="645.61" y="444.9" width="5.6" height="5.6" rx="0.6" fill="#6b6b6b" stroke="#000" stroke-width="1.35"/>
<text transform="translate(0.17 509.7) scale(1.0203 1)" font-size="17" font-weight="bold" fill="#000">E</text>
<text transform="translate(52.59 517.3) scale(1.0979 1)" font-size="14.2" font-weight="bold" fill="#000">Day3</text>
<rect x="52.8" y="521.9" width="128.7" height="15" fill="#cbcbcb"/>
<rect x="52.8" y="521.5" width="257.3" height="15.4" fill="none" stroke="#808080" stroke-width="1.3"/>
<line x1="181.5" y1="521.9" x2="181.5" y2="536.9" stroke="#333" stroke-width="1.1"/>
<text transform="translate(89.4 533.8) scale(1.0351 1)" font-size="10.3" fill="#000">Dark phase</text>
<text transform="translate(218.2 533.8) scale(1.0296 1)" font-size="10.3" fill="#000">Light phase</text>
<line x1="52.8" y1="521.5" x2="52.8" y2="665.9" stroke="#000" stroke-width="1.5"/>
<line x1="52.1" y1="665.2" x2="312.2" y2="665.2" stroke="#000" stroke-width="1.5"/>
<line x1="48.4" y1="665.2" x2="52.8" y2="665.2" stroke="#000" stroke-width="1.4"/>
<text transform="translate(40.27 669.5) scale(1.0400 1)" font-size="12" fill="#000">0</text>
<line x1="48.4" y1="617.43" x2="52.8" y2="617.43" stroke="#000" stroke-width="1.4"/>
<text transform="translate(26.42 621.73) scale(1.0400 1)" font-size="12" fill="#000">100</text>
<line x1="48.4" y1="569.67" x2="52.8" y2="569.67" stroke="#000" stroke-width="1.4"/>
<text transform="translate(26.42 573.97) scale(1.0400 1)" font-size="12" fill="#000">200</text>
<line x1="48.4" y1="521.9" x2="52.8" y2="521.9" stroke="#000" stroke-width="1.4"/>
<text transform="translate(26.42 526.2) scale(1.0400 1)" font-size="12" fill="#000">300</text>
<line x1="59.6" y1="665.2" x2="59.6" y2="669.9" stroke="#000" stroke-width="1.4"/>
<text transform="translate(53.14 682) scale(1.0400 1)" font-size="11.7" fill="#000">20</text>
<line x1="102" y1="665.2" x2="102" y2="669.9" stroke="#000" stroke-width="1.4"/>
<text transform="translate(98.97 682) scale(1.0400 1)" font-size="11.7" fill="#000">0</text>
<line x1="144.6" y1="665.2" x2="144.6" y2="669.9" stroke="#000" stroke-width="1.4"/>
<text transform="translate(141.6 682) scale(1.0400 1)" font-size="11.7" fill="#000">4</text>
<line x1="186.9" y1="665.2" x2="186.9" y2="669.9" stroke="#000" stroke-width="1.4"/>
<text transform="translate(183.84 682) scale(1.0400 1)" font-size="11.7" fill="#000">8</text>
<line x1="229.1" y1="665.2" x2="229.1" y2="669.9" stroke="#000" stroke-width="1.4"/>
<text transform="translate(222.54 682) scale(1.0400 1)" font-size="11.7" fill="#000">12</text>
<line x1="271.8" y1="665.2" x2="271.8" y2="669.9" stroke="#000" stroke-width="1.4"/>
<text transform="translate(265.21 682) scale(1.0400 1)" font-size="11.7" fill="#000">16</text>
<line x1="311.6" y1="665.2" x2="311.6" y2="669.9" stroke="#000" stroke-width="1.4"/>
<text transform="translate(305.14 682) scale(1.0400 1)" font-size="11.7" fill="#000">20</text>
<text transform="translate(137.1 695.6) scale(1.1165 1)" font-size="10.7" fill="#000">Clock time (hour)</text>
<text transform="translate(22 671.27) rotate(-90) scale(1.0023 1)" font-size="13.4" fill="#000">Total distance traveled (m)</text>
<line x1="263.9" y1="549.7" x2="279.3" y2="549.7" stroke="#000" stroke-width="1.35"/>
<circle cx="271.6" cy="549.7" r="2.85" fill="#fff" stroke="#000" stroke-width="1.3"/>
<text transform="translate(288.23 554.4) scale(1.0000 1)" font-size="11.5" fill="#000">Ctrl</text>
<line x1="263.9" y1="564.7" x2="279.3" y2="564.7" stroke="#000" stroke-width="1.35"/>
<rect x="268.9" y="562.1" width="5.4" height="5.2" rx="0.6" fill="#6b6b6b" stroke="#000" stroke-width="1.3"/>
<text transform="translate(287.88 569.4) scale(1.0000 1)" font-size="11.5" fill="#000">MS</text>
<line x1="59.6" y1="597.85" x2="59.6" y2="618.87" stroke="#000" stroke-width="1.35"/>
<line x1="56.8" y1="597.85" x2="62.4" y2="597.85" stroke="#000" stroke-width="1.35"/>
<line x1="56.8" y1="618.87" x2="62.4" y2="618.87" stroke="#000" stroke-width="1.35"/>
<line x1="70.22" y1="559.64" x2="70.22" y2="596.89" stroke="#000" stroke-width="1.35"/>
<line x1="67.42" y1="559.64" x2="73.02" y2="559.64" stroke="#000" stroke-width="1.35"/>
<line x1="67.42" y1="596.89" x2="73.02" y2="596.89" stroke="#000" stroke-width="1.35"/>
<line x1="80.84" y1="558.2" x2="80.84" y2="598.33" stroke="#000" stroke-width="1.35"/>
<line x1="78.04" y1="558.2" x2="83.64" y2="558.2" stroke="#000" stroke-width="1.35"/>
<line x1="78.04" y1="598.33" x2="83.64" y2="598.33" stroke="#000" stroke-width="1.35"/>
<line x1="91.46" y1="583.04" x2="91.46" y2="626.99" stroke="#000" stroke-width="1.35"/>
<line x1="88.66" y1="583.04" x2="94.26" y2="583.04" stroke="#000" stroke-width="1.35"/>
<line x1="88.66" y1="626.99" x2="94.26" y2="626.99" stroke="#000" stroke-width="1.35"/>
<line x1="102.08" y1="584.47" x2="102.08" y2="619.82" stroke="#000" stroke-width="1.35"/>
<line x1="99.28" y1="584.47" x2="104.88" y2="584.47" stroke="#000" stroke-width="1.35"/>
<line x1="99.28" y1="619.82" x2="104.88" y2="619.82" stroke="#000" stroke-width="1.35"/>
<line x1="112.7" y1="547.69" x2="112.7" y2="611.7" stroke="#000" stroke-width="1.35"/>
<line x1="109.9" y1="547.69" x2="115.5" y2="547.69" stroke="#000" stroke-width="1.35"/>
<line x1="109.9" y1="611.7" x2="115.5" y2="611.7" stroke="#000" stroke-width="1.35"/>
<line x1="123.32" y1="575.4" x2="123.32" y2="611.7" stroke="#000" stroke-width="1.35"/>
<line x1="120.52" y1="575.4" x2="126.12" y2="575.4" stroke="#000" stroke-width="1.35"/>
<line x1="120.52" y1="611.7" x2="126.12" y2="611.7" stroke="#000" stroke-width="1.35"/>
<line x1="133.94" y1="593.07" x2="133.94" y2="616.96" stroke="#000" stroke-width="1.35"/>
<line x1="131.14" y1="593.07" x2="136.74" y2="593.07" stroke="#000" stroke-width="1.35"/>
<line x1="131.14" y1="616.96" x2="136.74" y2="616.96" stroke="#000" stroke-width="1.35"/>
<line x1="144.56" y1="629.38" x2="144.56" y2="642.75" stroke="#000" stroke-width="1.35"/>
<line x1="141.76" y1="629.38" x2="147.36" y2="629.38" stroke="#000" stroke-width="1.35"/>
<line x1="141.76" y1="642.75" x2="147.36" y2="642.75" stroke="#000" stroke-width="1.35"/>
<line x1="155.18" y1="656.6" x2="155.18" y2="660.42" stroke="#000" stroke-width="1.35"/>
<line x1="152.38" y1="656.6" x2="157.98" y2="656.6" stroke="#000" stroke-width="1.35"/>
<line x1="152.38" y1="660.42" x2="157.98" y2="660.42" stroke="#000" stroke-width="1.35"/>
<line x1="165.8" y1="635.58" x2="165.8" y2="646.09" stroke="#000" stroke-width="1.35"/>
<line x1="163" y1="635.58" x2="168.6" y2="635.58" stroke="#000" stroke-width="1.35"/>
<line x1="163" y1="646.09" x2="168.6" y2="646.09" stroke="#000" stroke-width="1.35"/>
<line x1="176.42" y1="599.76" x2="176.42" y2="622.69" stroke="#000" stroke-width="1.35"/>
<line x1="173.62" y1="599.76" x2="179.22" y2="599.76" stroke="#000" stroke-width="1.35"/>
<line x1="173.62" y1="622.69" x2="179.22" y2="622.69" stroke="#000" stroke-width="1.35"/>
<line x1="187.04" y1="630.33" x2="187.04" y2="639.88" stroke="#000" stroke-width="1.35"/>
<line x1="184.24" y1="630.33" x2="189.84" y2="630.33" stroke="#000" stroke-width="1.35"/>
<line x1="184.24" y1="639.88" x2="189.84" y2="639.88" stroke="#000" stroke-width="1.35"/>
<line x1="197.66" y1="636.06" x2="197.66" y2="649.44" stroke="#000" stroke-width="1.35"/>
<line x1="194.86" y1="636.06" x2="200.46" y2="636.06" stroke="#000" stroke-width="1.35"/>
<line x1="194.86" y1="649.44" x2="200.46" y2="649.44" stroke="#000" stroke-width="1.35"/>
<line x1="208.28" y1="657.08" x2="208.28" y2="660.9" stroke="#000" stroke-width="1.35"/>
<line x1="205.48" y1="657.08" x2="211.08" y2="657.08" stroke="#000" stroke-width="1.35"/>
<line x1="205.48" y1="660.9" x2="211.08" y2="660.9" stroke="#000" stroke-width="1.35"/>
<line x1="218.9" y1="650.87" x2="218.9" y2="655.65" stroke="#000" stroke-width="1.35"/>
<line x1="216.1" y1="650.87" x2="221.7" y2="650.87" stroke="#000" stroke-width="1.35"/>
<line x1="216.1" y1="655.65" x2="221.7" y2="655.65" stroke="#000" stroke-width="1.35"/>
<line x1="229.52" y1="643.23" x2="229.52" y2="651.83" stroke="#000" stroke-width="1.35"/>
<line x1="226.72" y1="643.23" x2="232.32" y2="643.23" stroke="#000" stroke-width="1.35"/>
<line x1="226.72" y1="651.83" x2="232.32" y2="651.83" stroke="#000" stroke-width="1.35"/>
<line x1="240.14" y1="659.47" x2="240.14" y2="662.33" stroke="#000" stroke-width="1.35"/>
<line x1="237.34" y1="659.47" x2="242.94" y2="659.47" stroke="#000" stroke-width="1.35"/>
<line x1="237.34" y1="662.33" x2="242.94" y2="662.33" stroke="#000" stroke-width="1.35"/>
<line x1="250.76" y1="660.9" x2="250.76" y2="663.77" stroke="#000" stroke-width="1.35"/>
<line x1="247.96" y1="660.9" x2="253.56" y2="660.9" stroke="#000" stroke-width="1.35"/>
<line x1="247.96" y1="663.77" x2="253.56" y2="663.77" stroke="#000" stroke-width="1.35"/>
<line x1="261.38" y1="655.65" x2="261.38" y2="659.47" stroke="#000" stroke-width="1.35"/>
<line x1="258.58" y1="655.65" x2="264.18" y2="655.65" stroke="#000" stroke-width="1.35"/>
<line x1="258.58" y1="659.47" x2="264.18" y2="659.47" stroke="#000" stroke-width="1.35"/>
<line x1="272" y1="659.95" x2="272" y2="662.81" stroke="#000" stroke-width="1.35"/>
<line x1="269.2" y1="659.95" x2="274.8" y2="659.95" stroke="#000" stroke-width="1.35"/>
<line x1="269.2" y1="662.81" x2="274.8" y2="662.81" stroke="#000" stroke-width="1.35"/>
<line x1="282.62" y1="653.26" x2="282.62" y2="657.08" stroke="#000" stroke-width="1.35"/>
<line x1="279.82" y1="653.26" x2="285.42" y2="653.26" stroke="#000" stroke-width="1.35"/>
<line x1="279.82" y1="657.08" x2="285.42" y2="657.08" stroke="#000" stroke-width="1.35"/>
<line x1="293.24" y1="662.33" x2="293.24" y2="665.2" stroke="#000" stroke-width="1.35"/>
<line x1="290.44" y1="662.33" x2="296.04" y2="662.33" stroke="#000" stroke-width="1.35"/>
<line x1="290.44" y1="665.2" x2="296.04" y2="665.2" stroke="#000" stroke-width="1.35"/>
<line x1="303.86" y1="658.04" x2="303.86" y2="661.86" stroke="#000" stroke-width="1.35"/>
<line x1="301.06" y1="658.04" x2="306.66" y2="658.04" stroke="#000" stroke-width="1.35"/>
<line x1="301.06" y1="661.86" x2="306.66" y2="661.86" stroke="#000" stroke-width="1.35"/>
<polyline points="59.6,608.36 70.22,578.26 80.84,578.26 91.46,605.01 102.08,602.15 112.7,579.7 123.32,593.55 133.94,605.01 144.56,636.06 155.18,658.51 165.8,640.84 176.42,611.22 187.04,635.11 197.66,642.75 208.28,658.99 218.9,653.26 229.52,647.53 240.14,660.9 250.76,662.33 261.38,657.56 272,661.38 282.62,655.17 293.24,663.77 303.86,659.95" fill="none" stroke="#000" stroke-width="1.35"/>
<circle cx="59.6" cy="608.36" r="2.6" fill="#fff" stroke="#000" stroke-width="1.35"/>
<circle cx="70.22" cy="578.26" r="2.6" fill="#fff" stroke="#000" stroke-width="1.35"/>
<circle cx="80.84" cy="578.26" r="2.6" fill="#fff" stroke="#000" stroke-width="1.35"/>
<circle cx="91.46" cy="605.01" r="2.6" fill="#fff" stroke="#000" stroke-width="1.35"/>
<circle cx="102.08" cy="602.15" r="2.6" fill="#fff" stroke="#000" stroke-width="1.35"/>
<circle cx="112.7" cy="579.7" r="2.6" fill="#fff" stroke="#000" stroke-width="1.35"/>
<circle cx="123.32" cy="593.55" r="2.6" fill="#fff" stroke="#000" stroke-width="1.35"/>
<circle cx="133.94" cy="605.01" r="2.6" fill="#fff" stroke="#000" stroke-width="1.35"/>
<circle cx="144.56" cy="636.06" r="2.6" fill="#fff" stroke="#000" stroke-width="1.35"/>
<circle cx="155.18" cy="658.51" r="2.6" fill="#fff" stroke="#000" stroke-width="1.35"/>
<circle cx="165.8" cy="640.84" r="2.6" fill="#fff" stroke="#000" stroke-width="1.35"/>
<circle cx="176.42" cy="611.22" r="2.6" fill="#fff" stroke="#000" stroke-width="1.35"/>
<circle cx="187.04" cy="635.11" r="2.6" fill="#fff" stroke="#000" stroke-width="1.35"/>
<circle cx="197.66" cy="642.75" r="2.6" fill="#fff" stroke="#000" stroke-width="1.35"/>
<circle cx="208.28" cy="658.99" r="2.6" fill="#fff" stroke="#000" stroke-width="1.35"/>
<circle cx="218.9" cy="653.26" r="2.6" fill="#fff" stroke="#000" stroke-width="1.35"/>
<circle cx="229.52" cy="647.53" r="2.6" fill="#fff" stroke="#000" stroke-width="1.35"/>
<circle cx="240.14" cy="660.9" r="2.6" fill="#fff" stroke="#000" stroke-width="1.35"/>
<circle cx="250.76" cy="662.33" r="2.6" fill="#fff" stroke="#000" stroke-width="1.35"/>
<circle cx="261.38" cy="657.56" r="2.6" fill="#fff" stroke="#000" stroke-width="1.35"/>
<circle cx="272" cy="661.38" r="2.6" fill="#fff" stroke="#000" stroke-width="1.35"/>
<circle cx="282.62" cy="655.17" r="2.6" fill="#fff" stroke="#000" stroke-width="1.35"/>
<circle cx="293.24" cy="663.77" r="2.6" fill="#fff" stroke="#000" stroke-width="1.35"/>
<circle cx="303.86" cy="659.95" r="2.6" fill="#fff" stroke="#000" stroke-width="1.35"/>
<line x1="59.6" y1="615.52" x2="59.6" y2="621.25" stroke="#000" stroke-width="1.35"/>
<line x1="56.8" y1="615.52" x2="62.4" y2="615.52" stroke="#000" stroke-width="1.35"/>
<line x1="56.8" y1="621.25" x2="62.4" y2="621.25" stroke="#000" stroke-width="1.35"/>
<line x1="70.22" y1="571.1" x2="70.22" y2="587.34" stroke="#000" stroke-width="1.35"/>
<line x1="67.42" y1="571.1" x2="73.02" y2="571.1" stroke="#000" stroke-width="1.35"/>
<line x1="67.42" y1="587.34" x2="73.02" y2="587.34" stroke="#000" stroke-width="1.35"/>
<line x1="80.84" y1="578.26" x2="80.84" y2="589.73" stroke="#000" stroke-width="1.35"/>
<line x1="78.04" y1="578.26" x2="83.64" y2="578.26" stroke="#000" stroke-width="1.35"/>
<line x1="78.04" y1="589.73" x2="83.64" y2="589.73" stroke="#000" stroke-width="1.35"/>
<line x1="91.46" y1="595.46" x2="91.46" y2="614.57" stroke="#000" stroke-width="1.35"/>
<line x1="88.66" y1="595.46" x2="94.26" y2="595.46" stroke="#000" stroke-width="1.35"/>
<line x1="88.66" y1="614.57" x2="94.26" y2="614.57" stroke="#000" stroke-width="1.35"/>
<line x1="102.08" y1="579.7" x2="102.08" y2="594.98" stroke="#000" stroke-width="1.35"/>
<line x1="99.28" y1="579.7" x2="104.88" y2="579.7" stroke="#000" stroke-width="1.35"/>
<line x1="99.28" y1="594.98" x2="104.88" y2="594.98" stroke="#000" stroke-width="1.35"/>
<line x1="112.7" y1="567.28" x2="112.7" y2="583.52" stroke="#000" stroke-width="1.35"/>
<line x1="109.9" y1="567.28" x2="115.5" y2="567.28" stroke="#000" stroke-width="1.35"/>
<line x1="109.9" y1="583.52" x2="115.5" y2="583.52" stroke="#000" stroke-width="1.35"/>
<line x1="123.32" y1="588.77" x2="123.32" y2="606.92" stroke="#000" stroke-width="1.35"/>
<line x1="120.52" y1="588.77" x2="126.12" y2="588.77" stroke="#000" stroke-width="1.35"/>
<line x1="120.52" y1="606.92" x2="126.12" y2="606.92" stroke="#000" stroke-width="1.35"/>
<line x1="133.94" y1="601.19" x2="133.94" y2="622.21" stroke="#000" stroke-width="1.35"/>
<line x1="131.14" y1="601.19" x2="136.74" y2="601.19" stroke="#000" stroke-width="1.35"/>
<line x1="131.14" y1="622.21" x2="136.74" y2="622.21" stroke="#000" stroke-width="1.35"/>
<line x1="144.56" y1="620.78" x2="144.56" y2="641.79" stroke="#000" stroke-width="1.35"/>
<line x1="141.76" y1="620.78" x2="147.36" y2="620.78" stroke="#000" stroke-width="1.35"/>
<line x1="141.76" y1="641.79" x2="147.36" y2="641.79" stroke="#000" stroke-width="1.35"/>
<line x1="155.18" y1="617.43" x2="155.18" y2="637.5" stroke="#000" stroke-width="1.35"/>
<line x1="152.38" y1="617.43" x2="157.98" y2="617.43" stroke="#000" stroke-width="1.35"/>
<line x1="152.38" y1="637.5" x2="157.98" y2="637.5" stroke="#000" stroke-width="1.35"/>
<line x1="165.8" y1="621.25" x2="165.8" y2="635.58" stroke="#000" stroke-width="1.35"/>
<line x1="163" y1="621.25" x2="168.6" y2="621.25" stroke="#000" stroke-width="1.35"/>
<line x1="163" y1="635.58" x2="168.6" y2="635.58" stroke="#000" stroke-width="1.35"/>
<line x1="176.42" y1="599.76" x2="176.42" y2="613.13" stroke="#000" stroke-width="1.35"/>
<line x1="173.62" y1="599.76" x2="179.22" y2="599.76" stroke="#000" stroke-width="1.35"/>
<line x1="173.62" y1="613.13" x2="179.22" y2="613.13" stroke="#000" stroke-width="1.35"/>
<line x1="187.04" y1="619.82" x2="187.04" y2="634.15" stroke="#000" stroke-width="1.35"/>
<line x1="184.24" y1="619.82" x2="189.84" y2="619.82" stroke="#000" stroke-width="1.35"/>
<line x1="184.24" y1="634.15" x2="189.84" y2="634.15" stroke="#000" stroke-width="1.35"/>
<line x1="197.66" y1="636.06" x2="197.66" y2="649.44" stroke="#000" stroke-width="1.35"/>
<line x1="194.86" y1="636.06" x2="200.46" y2="636.06" stroke="#000" stroke-width="1.35"/>
<line x1="194.86" y1="649.44" x2="200.46" y2="649.44" stroke="#000" stroke-width="1.35"/>
<line x1="208.28" y1="646.09" x2="208.28" y2="650.87" stroke="#000" stroke-width="1.35"/>
<line x1="205.48" y1="646.09" x2="211.08" y2="646.09" stroke="#000" stroke-width="1.35"/>
<line x1="205.48" y1="650.87" x2="211.08" y2="650.87" stroke="#000" stroke-width="1.35"/>
<line x1="218.9" y1="644.18" x2="218.9" y2="655.65" stroke="#000" stroke-width="1.35"/>
<line x1="216.1" y1="644.18" x2="221.7" y2="644.18" stroke="#000" stroke-width="1.35"/>
<line x1="216.1" y1="655.65" x2="221.7" y2="655.65" stroke="#000" stroke-width="1.35"/>
<line x1="229.52" y1="654.21" x2="229.52" y2="658.04" stroke="#000" stroke-width="1.35"/>
<line x1="226.72" y1="654.21" x2="232.32" y2="654.21" stroke="#000" stroke-width="1.35"/>
<line x1="226.72" y1="658.04" x2="232.32" y2="658.04" stroke="#000" stroke-width="1.35"/>
<line x1="240.14" y1="659.47" x2="240.14" y2="662.33" stroke="#000" stroke-width="1.35"/>
<line x1="237.34" y1="659.47" x2="242.94" y2="659.47" stroke="#000" stroke-width="1.35"/>
<line x1="237.34" y1="662.33" x2="242.94" y2="662.33" stroke="#000" stroke-width="1.35"/>
<line x1="250.76" y1="651.35" x2="250.76" y2="655.17" stroke="#000" stroke-width="1.35"/>
<line x1="247.96" y1="651.35" x2="253.56" y2="651.35" stroke="#000" stroke-width="1.35"/>
<line x1="247.96" y1="655.17" x2="253.56" y2="655.17" stroke="#000" stroke-width="1.35"/>
<line x1="261.38" y1="658.51" x2="261.38" y2="661.38" stroke="#000" stroke-width="1.35"/>
<line x1="258.58" y1="658.51" x2="264.18" y2="658.51" stroke="#000" stroke-width="1.35"/>
<line x1="258.58" y1="661.38" x2="264.18" y2="661.38" stroke="#000" stroke-width="1.35"/>
<line x1="272" y1="659.95" x2="272" y2="662.81" stroke="#000" stroke-width="1.35"/>
<line x1="269.2" y1="659.95" x2="274.8" y2="659.95" stroke="#000" stroke-width="1.35"/>
<line x1="269.2" y1="662.81" x2="274.8" y2="662.81" stroke="#000" stroke-width="1.35"/>
<line x1="282.62" y1="655.65" x2="282.62" y2="659.47" stroke="#000" stroke-width="1.35"/>
<line x1="279.82" y1="655.65" x2="285.42" y2="655.65" stroke="#000" stroke-width="1.35"/>
<line x1="279.82" y1="659.47" x2="285.42" y2="659.47" stroke="#000" stroke-width="1.35"/>
<line x1="293.24" y1="659.95" x2="293.24" y2="662.81" stroke="#000" stroke-width="1.35"/>
<line x1="290.44" y1="659.95" x2="296.04" y2="659.95" stroke="#000" stroke-width="1.35"/>
<line x1="290.44" y1="662.81" x2="296.04" y2="662.81" stroke="#000" stroke-width="1.35"/>
<line x1="303.86" y1="658.04" x2="303.86" y2="661.86" stroke="#000" stroke-width="1.35"/>
<line x1="301.06" y1="658.04" x2="306.66" y2="658.04" stroke="#000" stroke-width="1.35"/>
<line x1="301.06" y1="661.86" x2="306.66" y2="661.86" stroke="#000" stroke-width="1.35"/>
<polyline points="59.6,618.39 70.22,579.22 80.84,584 91.46,605.01 102.08,587.34 112.7,575.4 123.32,597.85 133.94,611.7 144.56,631.29 155.18,627.46 165.8,628.42 176.42,606.45 187.04,626.99 197.66,642.75 208.28,648.48 218.9,649.91 229.52,656.12 240.14,660.9 250.76,653.26 261.38,659.95 272,661.38 282.62,657.56 293.24,661.38 303.86,659.95" fill="none" stroke="#000" stroke-width="1.35"/>
<rect x="56.8" y="615.59" width="5.6" height="5.6" rx="0.6" fill="#6b6b6b" stroke="#000" stroke-width="1.35"/>
<rect x="67.42" y="576.42" width="5.6" height="5.6" rx="0.6" fill="#6b6b6b" stroke="#000" stroke-width="1.35"/>
<rect x="78.04" y="581.2" width="5.6" height="5.6" rx="0.6" fill="#6b6b6b" stroke="#000" stroke-width="1.35"/>
<rect x="88.66" y="602.21" width="5.6" height="5.6" rx="0.6" fill="#6b6b6b" stroke="#000" stroke-width="1.35"/>
<rect x="99.28" y="584.54" width="5.6" height="5.6" rx="0.6" fill="#6b6b6b" stroke="#000" stroke-width="1.35"/>
<rect x="109.9" y="572.6" width="5.6" height="5.6" rx="0.6" fill="#6b6b6b" stroke="#000" stroke-width="1.35"/>
<rect x="120.52" y="595.05" width="5.6" height="5.6" rx="0.6" fill="#6b6b6b" stroke="#000" stroke-width="1.35"/>
<rect x="131.14" y="608.9" width="5.6" height="5.6" rx="0.6" fill="#6b6b6b" stroke="#000" stroke-width="1.35"/>
<rect x="141.76" y="628.49" width="5.6" height="5.6" rx="0.6" fill="#6b6b6b" stroke="#000" stroke-width="1.35"/>
<rect x="152.38" y="624.66" width="5.6" height="5.6" rx="0.6" fill="#6b6b6b" stroke="#000" stroke-width="1.35"/>
<rect x="163" y="625.62" width="5.6" height="5.6" rx="0.6" fill="#6b6b6b" stroke="#000" stroke-width="1.35"/>
<rect x="173.62" y="603.65" width="5.6" height="5.6" rx="0.6" fill="#6b6b6b" stroke="#000" stroke-width="1.35"/>
<rect x="184.24" y="624.19" width="5.6" height="5.6" rx="0.6" fill="#6b6b6b" stroke="#000" stroke-width="1.35"/>
<rect x="194.86" y="639.95" width="5.6" height="5.6" rx="0.6" fill="#6b6b6b" stroke="#000" stroke-width="1.35"/>
<rect x="205.48" y="645.68" width="5.6" height="5.6" rx="0.6" fill="#6b6b6b" stroke="#000" stroke-width="1.35"/>
<rect x="216.1" y="647.11" width="5.6" height="5.6" rx="0.6" fill="#6b6b6b" stroke="#000" stroke-width="1.35"/>
<rect x="226.72" y="653.32" width="5.6" height="5.6" rx="0.6" fill="#6b6b6b" stroke="#000" stroke-width="1.35"/>
<rect x="237.34" y="658.1" width="5.6" height="5.6" rx="0.6" fill="#6b6b6b" stroke="#000" stroke-width="1.35"/>
<rect x="247.96" y="650.46" width="5.6" height="5.6" rx="0.6" fill="#6b6b6b" stroke="#000" stroke-width="1.35"/>
<rect x="258.58" y="657.15" width="5.6" height="5.6" rx="0.6" fill="#6b6b6b" stroke="#000" stroke-width="1.35"/>
<rect x="269.2" y="658.58" width="5.6" height="5.6" rx="0.6" fill="#6b6b6b" stroke="#000" stroke-width="1.35"/>
<rect x="279.82" y="654.76" width="5.6" height="5.6" rx="0.6" fill="#6b6b6b" stroke="#000" stroke-width="1.35"/>
<rect x="290.44" y="658.58" width="5.6" height="5.6" rx="0.6" fill="#6b6b6b" stroke="#000" stroke-width="1.35"/>
<rect x="301.06" y="657.15" width="5.6" height="5.6" rx="0.6" fill="#6b6b6b" stroke="#000" stroke-width="1.35"/>
<text transform="translate(344.15 509.6) scale(1.0381 1)" font-size="17" font-weight="bold" fill="#000">F</text>
<text transform="translate(397.78 517.3) scale(1.1079 1)" font-size="14.2" font-weight="bold" fill="#000">Day4</text>
<rect x="398" y="521.9" width="128.8" height="15" fill="#cbcbcb"/>
<rect x="398" y="521.5" width="257.6" height="15.4" fill="none" stroke="#808080" stroke-width="1.3"/>
<line x1="526.8" y1="521.9" x2="526.8" y2="536.9" stroke="#333" stroke-width="1.1"/>
<text transform="translate(434.65 533.8) scale(1.0351 1)" font-size="10.3" fill="#000">Dark phase</text>
<text transform="translate(563.6 533.8) scale(1.0296 1)" font-size="10.3" fill="#000">Light phase</text>
<line x1="398" y1="521.5" x2="398" y2="666.3" stroke="#000" stroke-width="1.5"/>
<line x1="397.3" y1="665.6" x2="657" y2="665.6" stroke="#000" stroke-width="1.5"/>
<line x1="393.6" y1="665.6" x2="398" y2="665.6" stroke="#000" stroke-width="1.4"/>
<text transform="translate(385.47 669.9) scale(1.0400 1)" font-size="12" fill="#000">0</text>
<line x1="393.6" y1="617.7" x2="398" y2="617.7" stroke="#000" stroke-width="1.4"/>
<text transform="translate(371.62 622) scale(1.0400 1)" font-size="12" fill="#000">100</text>
<line x1="393.6" y1="569.8" x2="398" y2="569.8" stroke="#000" stroke-width="1.4"/>
<text transform="translate(371.62 574.1) scale(1.0400 1)" font-size="12" fill="#000">200</text>
<line x1="393.6" y1="521.9" x2="398" y2="521.9" stroke="#000" stroke-width="1.4"/>
<text transform="translate(371.62 526.2) scale(1.0400 1)" font-size="12" fill="#000">300</text>
<line x1="404.9" y1="665.6" x2="404.9" y2="670.3" stroke="#000" stroke-width="1.4"/>
<text transform="translate(398.44 682.4) scale(1.0400 1)" font-size="11.7" fill="#000">20</text>
<line x1="447.3" y1="665.6" x2="447.3" y2="670.3" stroke="#000" stroke-width="1.4"/>
<text transform="translate(444.27 682.4) scale(1.0400 1)" font-size="11.7" fill="#000">0</text>
<line x1="489.7" y1="665.6" x2="489.7" y2="670.3" stroke="#000" stroke-width="1.4"/>
<text transform="translate(486.7 682.4) scale(1.0400 1)" font-size="11.7" fill="#000">4</text>
<line x1="532.1" y1="665.6" x2="532.1" y2="670.3" stroke="#000" stroke-width="1.4"/>
<text transform="translate(529.04 682.4) scale(1.0400 1)" font-size="11.7" fill="#000">8</text>
<line x1="575" y1="665.6" x2="575" y2="670.3" stroke="#000" stroke-width="1.4"/>
<text transform="translate(568.44 682.4) scale(1.0400 1)" font-size="11.7" fill="#000">12</text>
<line x1="617.8" y1="665.6" x2="617.8" y2="670.3" stroke="#000" stroke-width="1.4"/>
<text transform="translate(611.21 682.4) scale(1.0400 1)" font-size="11.7" fill="#000">16</text>
<line x1="656.4" y1="665.6" x2="656.4" y2="670.3" stroke="#000" stroke-width="1.4"/>
<text transform="translate(649.94 682.4) scale(1.0400 1)" font-size="11.7" fill="#000">20</text>
<text transform="translate(482.1 696) scale(1.1165 1)" font-size="10.7" fill="#000">Clock time (hour)</text>
<text transform="translate(367.6 671.27) rotate(-90) scale(1.0023 1)" font-size="13.4" fill="#000">Total distance traveled (m)</text>
<line x1="609.6" y1="549.7" x2="625" y2="549.7" stroke="#000" stroke-width="1.35"/>
<circle cx="617.3" cy="549.7" r="2.85" fill="#fff" stroke="#000" stroke-width="1.3"/>
<text transform="translate(633.93 554.4) scale(1.0000 1)" font-size="11.5" fill="#000">Ctrl</text>
<line x1="609.6" y1="564.7" x2="625" y2="564.7" stroke="#000" stroke-width="1.35"/>
<rect x="614.6" y="562.1" width="5.4" height="5.2" rx="0.6" fill="#6b6b6b" stroke="#000" stroke-width="1.3"/>
<text transform="translate(633.58 569.4) scale(1.0000 1)" font-size="11.5" fill="#000">MS</text>
<line x1="404.9" y1="596.62" x2="404.9" y2="616.74" stroke="#000" stroke-width="1.35"/>
<line x1="402.1" y1="596.62" x2="407.7" y2="596.62" stroke="#000" stroke-width="1.35"/>
<line x1="402.1" y1="616.74" x2="407.7" y2="616.74" stroke="#000" stroke-width="1.35"/>
<line x1="415.5" y1="551.6" x2="415.5" y2="585.13" stroke="#000" stroke-width="1.35"/>
<line x1="412.7" y1="551.6" x2="418.3" y2="551.6" stroke="#000" stroke-width="1.35"/>
<line x1="412.7" y1="585.13" x2="418.3" y2="585.13" stroke="#000" stroke-width="1.35"/>
<line x1="426.1" y1="566.93" x2="426.1" y2="611.95" stroke="#000" stroke-width="1.35"/>
<line x1="423.3" y1="566.93" x2="428.9" y2="566.93" stroke="#000" stroke-width="1.35"/>
<line x1="423.3" y1="611.95" x2="428.9" y2="611.95" stroke="#000" stroke-width="1.35"/>
<line x1="436.7" y1="579.38" x2="436.7" y2="608.12" stroke="#000" stroke-width="1.35"/>
<line x1="433.9" y1="579.38" x2="439.5" y2="579.38" stroke="#000" stroke-width="1.35"/>
<line x1="433.9" y1="608.12" x2="439.5" y2="608.12" stroke="#000" stroke-width="1.35"/>
<line x1="447.3" y1="551.6" x2="447.3" y2="592.79" stroke="#000" stroke-width="1.35"/>
<line x1="444.5" y1="551.6" x2="450.1" y2="551.6" stroke="#000" stroke-width="1.35"/>
<line x1="444.5" y1="592.79" x2="450.1" y2="592.79" stroke="#000" stroke-width="1.35"/>
<line x1="457.9" y1="564.05" x2="457.9" y2="604.29" stroke="#000" stroke-width="1.35"/>
<line x1="455.1" y1="564.05" x2="460.7" y2="564.05" stroke="#000" stroke-width="1.35"/>
<line x1="455.1" y1="604.29" x2="460.7" y2="604.29" stroke="#000" stroke-width="1.35"/>
<line x1="468.5" y1="582.25" x2="468.5" y2="615.78" stroke="#000" stroke-width="1.35"/>
<line x1="465.7" y1="582.25" x2="471.3" y2="582.25" stroke="#000" stroke-width="1.35"/>
<line x1="465.7" y1="615.78" x2="471.3" y2="615.78" stroke="#000" stroke-width="1.35"/>
<line x1="479.1" y1="629.67" x2="479.1" y2="656.5" stroke="#000" stroke-width="1.35"/>
<line x1="476.3" y1="629.67" x2="481.9" y2="629.67" stroke="#000" stroke-width="1.35"/>
<line x1="476.3" y1="656.5" x2="481.9" y2="656.5" stroke="#000" stroke-width="1.35"/>
<line x1="489.7" y1="641.65" x2="489.7" y2="651.23" stroke="#000" stroke-width="1.35"/>
<line x1="486.9" y1="641.65" x2="492.5" y2="641.65" stroke="#000" stroke-width="1.35"/>
<line x1="486.9" y1="651.23" x2="492.5" y2="651.23" stroke="#000" stroke-width="1.35"/>
<line x1="500.3" y1="649.31" x2="500.3" y2="656.98" stroke="#000" stroke-width="1.35"/>
<line x1="497.5" y1="649.31" x2="503.1" y2="649.31" stroke="#000" stroke-width="1.35"/>
<line x1="497.5" y1="656.98" x2="503.1" y2="656.98" stroke="#000" stroke-width="1.35"/>
<line x1="510.9" y1="596.14" x2="510.9" y2="627.76" stroke="#000" stroke-width="1.35"/>
<line x1="508.1" y1="596.14" x2="513.7" y2="596.14" stroke="#000" stroke-width="1.35"/>
<line x1="508.1" y1="627.76" x2="513.7" y2="627.76" stroke="#000" stroke-width="1.35"/>
<line x1="521.5" y1="597.1" x2="521.5" y2="613.39" stroke="#000" stroke-width="1.35"/>
<line x1="518.7" y1="597.1" x2="524.3" y2="597.1" stroke="#000" stroke-width="1.35"/>
<line x1="518.7" y1="613.39" x2="524.3" y2="613.39" stroke="#000" stroke-width="1.35"/>
<line x1="532.1" y1="629.67" x2="532.1" y2="641.17" stroke="#000" stroke-width="1.35"/>
<line x1="529.3" y1="629.67" x2="534.9" y2="629.67" stroke="#000" stroke-width="1.35"/>
<line x1="529.3" y1="641.17" x2="534.9" y2="641.17" stroke="#000" stroke-width="1.35"/>
<line x1="542.7" y1="637.34" x2="542.7" y2="645" stroke="#000" stroke-width="1.35"/>
<line x1="539.9" y1="637.34" x2="545.5" y2="637.34" stroke="#000" stroke-width="1.35"/>
<line x1="539.9" y1="645" x2="545.5" y2="645" stroke="#000" stroke-width="1.35"/>
<line x1="553.3" y1="660.33" x2="553.3" y2="663.21" stroke="#000" stroke-width="1.35"/>
<line x1="550.5" y1="660.33" x2="556.1" y2="660.33" stroke="#000" stroke-width="1.35"/>
<line x1="550.5" y1="663.21" x2="556.1" y2="663.21" stroke="#000" stroke-width="1.35"/>
<line x1="563.9" y1="657.94" x2="563.9" y2="660.81" stroke="#000" stroke-width="1.35"/>
<line x1="561.1" y1="657.94" x2="566.7" y2="657.94" stroke="#000" stroke-width="1.35"/>
<line x1="561.1" y1="660.81" x2="566.7" y2="660.81" stroke="#000" stroke-width="1.35"/>
<line x1="574.5" y1="644.05" x2="574.5" y2="650.75" stroke="#000" stroke-width="1.35"/>
<line x1="571.7" y1="644.05" x2="577.3" y2="644.05" stroke="#000" stroke-width="1.35"/>
<line x1="571.7" y1="650.75" x2="577.3" y2="650.75" stroke="#000" stroke-width="1.35"/>
<line x1="585.1" y1="661.29" x2="585.1" y2="664.16" stroke="#000" stroke-width="1.35"/>
<line x1="582.3" y1="661.29" x2="587.9" y2="661.29" stroke="#000" stroke-width="1.35"/>
<line x1="582.3" y1="664.16" x2="587.9" y2="664.16" stroke="#000" stroke-width="1.35"/>
<line x1="595.7" y1="660.81" x2="595.7" y2="663.68" stroke="#000" stroke-width="1.35"/>
<line x1="592.9" y1="660.81" x2="598.5" y2="660.81" stroke="#000" stroke-width="1.35"/>
<line x1="592.9" y1="663.68" x2="598.5" y2="663.68" stroke="#000" stroke-width="1.35"/>
<line x1="606.3" y1="661.29" x2="606.3" y2="664.16" stroke="#000" stroke-width="1.35"/>
<line x1="603.5" y1="661.29" x2="609.1" y2="661.29" stroke="#000" stroke-width="1.35"/>
<line x1="603.5" y1="664.16" x2="609.1" y2="664.16" stroke="#000" stroke-width="1.35"/>
<line x1="616.9" y1="660.33" x2="616.9" y2="663.21" stroke="#000" stroke-width="1.35"/>
<line x1="614.1" y1="660.33" x2="619.7" y2="660.33" stroke="#000" stroke-width="1.35"/>
<line x1="614.1" y1="663.21" x2="619.7" y2="663.21" stroke="#000" stroke-width="1.35"/>
<line x1="627.5" y1="659.37" x2="627.5" y2="662.25" stroke="#000" stroke-width="1.35"/>
<line x1="624.7" y1="659.37" x2="630.3" y2="659.37" stroke="#000" stroke-width="1.35"/>
<line x1="624.7" y1="662.25" x2="630.3" y2="662.25" stroke="#000" stroke-width="1.35"/>
<line x1="638.1" y1="661.29" x2="638.1" y2="664.16" stroke="#000" stroke-width="1.35"/>
<line x1="635.3" y1="661.29" x2="640.9" y2="661.29" stroke="#000" stroke-width="1.35"/>
<line x1="635.3" y1="664.16" x2="640.9" y2="664.16" stroke="#000" stroke-width="1.35"/>
<line x1="648.7" y1="657.46" x2="648.7" y2="660.33" stroke="#000" stroke-width="1.35"/>
<line x1="645.9" y1="657.46" x2="651.5" y2="657.46" stroke="#000" stroke-width="1.35"/>
<line x1="645.9" y1="660.33" x2="651.5" y2="660.33" stroke="#000" stroke-width="1.35"/>
<polyline points="404.9,606.68 415.5,568.36 426.1,589.44 436.7,593.75 447.3,572.19 457.9,584.17 468.5,599.02 479.1,643.09 489.7,646.44 500.3,653.15 510.9,611.95 521.5,605.25 532.1,635.42 542.7,641.17 553.3,661.77 563.9,659.37 574.5,647.4 585.1,662.73 595.7,662.25 606.3,662.73 616.9,661.77 627.5,660.81 638.1,662.73 648.7,658.89" fill="none" stroke="#000" stroke-width="1.35"/>
<circle cx="404.9" cy="606.68" r="2.6" fill="#fff" stroke="#000" stroke-width="1.35"/>
<circle cx="415.5" cy="568.36" r="2.6" fill="#fff" stroke="#000" stroke-width="1.35"/>
<circle cx="426.1" cy="589.44" r="2.6" fill="#fff" stroke="#000" stroke-width="1.35"/>
<circle cx="436.7" cy="593.75" r="2.6" fill="#fff" stroke="#000" stroke-width="1.35"/>
<circle cx="447.3" cy="572.19" r="2.6" fill="#fff" stroke="#000" stroke-width="1.35"/>
<circle cx="457.9" cy="584.17" r="2.6" fill="#fff" stroke="#000" stroke-width="1.35"/>
<circle cx="468.5" cy="599.02" r="2.6" fill="#fff" stroke="#000" stroke-width="1.35"/>
<circle cx="479.1" cy="643.09" r="2.6" fill="#fff" stroke="#000" stroke-width="1.35"/>
<circle cx="489.7" cy="646.44" r="2.6" fill="#fff" stroke="#000" stroke-width="1.35"/>
<circle cx="500.3" cy="653.15" r="2.6" fill="#fff" stroke="#000" stroke-width="1.35"/>
<circle cx="510.9" cy="611.95" r="2.6" fill="#fff" stroke="#000" stroke-width="1.35"/>
<circle cx="521.5" cy="605.25" r="2.6" fill="#fff" stroke="#000" stroke-width="1.35"/>
<circle cx="532.1" cy="635.42" r="2.6" fill="#fff" stroke="#000" stroke-width="1.35"/>
<circle cx="542.7" cy="641.17" r="2.6" fill="#fff" stroke="#000" stroke-width="1.35"/>
<circle cx="553.3" cy="661.77" r="2.6" fill="#fff" stroke="#000" stroke-width="1.35"/>
<circle cx="563.9" cy="659.37" r="2.6" fill="#fff" stroke="#000" stroke-width="1.35"/>
<circle cx="574.5" cy="647.4" r="2.6" fill="#fff" stroke="#000" stroke-width="1.35"/>
<circle cx="585.1" cy="662.73" r="2.6" fill="#fff" stroke="#000" stroke-width="1.35"/>
<circle cx="595.7" cy="662.25" r="2.6" fill="#fff" stroke="#000" stroke-width="1.35"/>
<circle cx="606.3" cy="662.73" r="2.6" fill="#fff" stroke="#000" stroke-width="1.35"/>
<circle cx="616.9" cy="661.77" r="2.6" fill="#fff" stroke="#000" stroke-width="1.35"/>
<circle cx="627.5" cy="660.81" r="2.6" fill="#fff" stroke="#000" stroke-width="1.35"/>
<circle cx="638.1" cy="662.73" r="2.6" fill="#fff" stroke="#000" stroke-width="1.35"/>
<circle cx="648.7" cy="658.89" r="2.6" fill="#fff" stroke="#000" stroke-width="1.35"/>
<line x1="404.9" y1="600.46" x2="404.9" y2="610.04" stroke="#000" stroke-width="1.35"/>
<line x1="402.1" y1="600.46" x2="407.7" y2="600.46" stroke="#000" stroke-width="1.35"/>
<line x1="402.1" y1="610.04" x2="407.7" y2="610.04" stroke="#000" stroke-width="1.35"/>
<line x1="415.5" y1="566.93" x2="415.5" y2="584.17" stroke="#000" stroke-width="1.35"/>
<line x1="412.7" y1="566.93" x2="418.3" y2="566.93" stroke="#000" stroke-width="1.35"/>
<line x1="412.7" y1="584.17" x2="418.3" y2="584.17" stroke="#000" stroke-width="1.35"/>
<line x1="426.1" y1="573.63" x2="426.1" y2="592.79" stroke="#000" stroke-width="1.35"/>
<line x1="423.3" y1="573.63" x2="428.9" y2="573.63" stroke="#000" stroke-width="1.35"/>
<line x1="423.3" y1="592.79" x2="428.9" y2="592.79" stroke="#000" stroke-width="1.35"/>
<line x1="436.7" y1="579.86" x2="436.7" y2="608.6" stroke="#000" stroke-width="1.35"/>
<line x1="433.9" y1="579.86" x2="439.5" y2="579.86" stroke="#000" stroke-width="1.35"/>
<line x1="433.9" y1="608.6" x2="439.5" y2="608.6" stroke="#000" stroke-width="1.35"/>
<line x1="447.3" y1="581.3" x2="447.3" y2="597.58" stroke="#000" stroke-width="1.35"/>
<line x1="444.5" y1="581.3" x2="450.1" y2="581.3" stroke="#000" stroke-width="1.35"/>
<line x1="444.5" y1="597.58" x2="450.1" y2="597.58" stroke="#000" stroke-width="1.35"/>
<line x1="457.9" y1="576.03" x2="457.9" y2="597.1" stroke="#000" stroke-width="1.35"/>
<line x1="455.1" y1="576.03" x2="460.7" y2="576.03" stroke="#000" stroke-width="1.35"/>
<line x1="455.1" y1="597.1" x2="460.7" y2="597.1" stroke="#000" stroke-width="1.35"/>
<line x1="468.5" y1="587.52" x2="468.5" y2="603.81" stroke="#000" stroke-width="1.35"/>
<line x1="465.7" y1="587.52" x2="471.3" y2="587.52" stroke="#000" stroke-width="1.35"/>
<line x1="465.7" y1="603.81" x2="471.3" y2="603.81" stroke="#000" stroke-width="1.35"/>
<line x1="479.1" y1="601.41" x2="479.1" y2="620.57" stroke="#000" stroke-width="1.35"/>
<line x1="476.3" y1="601.41" x2="481.9" y2="601.41" stroke="#000" stroke-width="1.35"/>
<line x1="476.3" y1="620.57" x2="481.9" y2="620.57" stroke="#000" stroke-width="1.35"/>
<line x1="489.7" y1="626.32" x2="489.7" y2="643.57" stroke="#000" stroke-width="1.35"/>
<line x1="486.9" y1="626.32" x2="492.5" y2="626.32" stroke="#000" stroke-width="1.35"/>
<line x1="486.9" y1="643.57" x2="492.5" y2="643.57" stroke="#000" stroke-width="1.35"/>
<line x1="500.3" y1="639.25" x2="500.3" y2="648.84" stroke="#000" stroke-width="1.35"/>
<line x1="497.5" y1="639.25" x2="503.1" y2="639.25" stroke="#000" stroke-width="1.35"/>
<line x1="497.5" y1="648.84" x2="503.1" y2="648.84" stroke="#000" stroke-width="1.35"/>
<line x1="510.9" y1="622.97" x2="510.9" y2="634.47" stroke="#000" stroke-width="1.35"/>
<line x1="508.1" y1="622.97" x2="513.7" y2="622.97" stroke="#000" stroke-width="1.35"/>
<line x1="508.1" y1="634.47" x2="513.7" y2="634.47" stroke="#000" stroke-width="1.35"/>
<line x1="521.5" y1="590.88" x2="521.5" y2="619.62" stroke="#000" stroke-width="1.35"/>
<line x1="518.7" y1="590.88" x2="524.3" y2="590.88" stroke="#000" stroke-width="1.35"/>
<line x1="518.7" y1="619.62" x2="524.3" y2="619.62" stroke="#000" stroke-width="1.35"/>
<line x1="532.1" y1="624.41" x2="532.1" y2="636.86" stroke="#000" stroke-width="1.35"/>
<line x1="529.3" y1="624.41" x2="534.9" y2="624.41" stroke="#000" stroke-width="1.35"/>
<line x1="529.3" y1="636.86" x2="534.9" y2="636.86" stroke="#000" stroke-width="1.35"/>
<line x1="542.7" y1="652.19" x2="542.7" y2="656.98" stroke="#000" stroke-width="1.35"/>
<line x1="539.9" y1="652.19" x2="545.5" y2="652.19" stroke="#000" stroke-width="1.35"/>
<line x1="539.9" y1="656.98" x2="545.5" y2="656.98" stroke="#000" stroke-width="1.35"/>
<line x1="553.3" y1="659.37" x2="553.3" y2="662.25" stroke="#000" stroke-width="1.35"/>
<line x1="550.5" y1="659.37" x2="556.1" y2="659.37" stroke="#000" stroke-width="1.35"/>
<line x1="550.5" y1="662.25" x2="556.1" y2="662.25" stroke="#000" stroke-width="1.35"/>
<line x1="563.9" y1="653.62" x2="563.9" y2="657.46" stroke="#000" stroke-width="1.35"/>
<line x1="561.1" y1="653.62" x2="566.7" y2="653.62" stroke="#000" stroke-width="1.35"/>
<line x1="561.1" y1="657.46" x2="566.7" y2="657.46" stroke="#000" stroke-width="1.35"/>
<line x1="574.5" y1="655.54" x2="574.5" y2="659.37" stroke="#000" stroke-width="1.35"/>
<line x1="571.7" y1="655.54" x2="577.3" y2="655.54" stroke="#000" stroke-width="1.35"/>
<line x1="571.7" y1="659.37" x2="577.3" y2="659.37" stroke="#000" stroke-width="1.35"/>
<line x1="585.1" y1="661.29" x2="585.1" y2="664.16" stroke="#000" stroke-width="1.35"/>
<line x1="582.3" y1="661.29" x2="587.9" y2="661.29" stroke="#000" stroke-width="1.35"/>
<line x1="582.3" y1="664.16" x2="587.9" y2="664.16" stroke="#000" stroke-width="1.35"/>
<line x1="595.7" y1="656.5" x2="595.7" y2="659.37" stroke="#000" stroke-width="1.35"/>
<line x1="592.9" y1="656.5" x2="598.5" y2="656.5" stroke="#000" stroke-width="1.35"/>
<line x1="592.9" y1="659.37" x2="598.5" y2="659.37" stroke="#000" stroke-width="1.35"/>
<line x1="606.3" y1="657.94" x2="606.3" y2="660.81" stroke="#000" stroke-width="1.35"/>
<line x1="603.5" y1="657.94" x2="609.1" y2="657.94" stroke="#000" stroke-width="1.35"/>
<line x1="603.5" y1="660.81" x2="609.1" y2="660.81" stroke="#000" stroke-width="1.35"/>
<line x1="616.9" y1="660.33" x2="616.9" y2="663.21" stroke="#000" stroke-width="1.35"/>
<line x1="614.1" y1="660.33" x2="619.7" y2="660.33" stroke="#000" stroke-width="1.35"/>
<line x1="614.1" y1="663.21" x2="619.7" y2="663.21" stroke="#000" stroke-width="1.35"/>
<line x1="627.5" y1="650.75" x2="627.5" y2="655.54" stroke="#000" stroke-width="1.35"/>
<line x1="624.7" y1="650.75" x2="630.3" y2="650.75" stroke="#000" stroke-width="1.35"/>
<line x1="624.7" y1="655.54" x2="630.3" y2="655.54" stroke="#000" stroke-width="1.35"/>
<line x1="638.1" y1="661.29" x2="638.1" y2="664.16" stroke="#000" stroke-width="1.35"/>
<line x1="635.3" y1="661.29" x2="640.9" y2="661.29" stroke="#000" stroke-width="1.35"/>
<line x1="635.3" y1="664.16" x2="640.9" y2="664.16" stroke="#000" stroke-width="1.35"/>
<line x1="648.7" y1="659.37" x2="648.7" y2="662.25" stroke="#000" stroke-width="1.35"/>
<line x1="645.9" y1="659.37" x2="651.5" y2="659.37" stroke="#000" stroke-width="1.35"/>
<line x1="645.9" y1="662.25" x2="651.5" y2="662.25" stroke="#000" stroke-width="1.35"/>
<polyline points="404.9,605.25 415.5,575.55 426.1,583.21 436.7,594.23 447.3,589.44 457.9,586.57 468.5,595.67 479.1,610.99 489.7,634.94 500.3,644.05 510.9,628.72 521.5,605.25 532.1,630.63 542.7,654.58 553.3,660.81 563.9,655.54 574.5,657.46 585.1,662.73 595.7,657.94 606.3,659.37 616.9,661.77 627.5,653.15 638.1,662.73 648.7,660.81" fill="none" stroke="#000" stroke-width="1.35"/>
<rect x="402.1" y="602.45" width="5.6" height="5.6" rx="0.6" fill="#6b6b6b" stroke="#000" stroke-width="1.35"/>
<rect x="412.7" y="572.75" width="5.6" height="5.6" rx="0.6" fill="#6b6b6b" stroke="#000" stroke-width="1.35"/>
<rect x="423.3" y="580.41" width="5.6" height="5.6" rx="0.6" fill="#6b6b6b" stroke="#000" stroke-width="1.35"/>
<rect x="433.9" y="591.43" width="5.6" height="5.6" rx="0.6" fill="#6b6b6b" stroke="#000" stroke-width="1.35"/>
<rect x="444.5" y="586.64" width="5.6" height="5.6" rx="0.6" fill="#6b6b6b" stroke="#000" stroke-width="1.35"/>
<rect x="455.1" y="583.77" width="5.6" height="5.6" rx="0.6" fill="#6b6b6b" stroke="#000" stroke-width="1.35"/>
<rect x="465.7" y="592.87" width="5.6" height="5.6" rx="0.6" fill="#6b6b6b" stroke="#000" stroke-width="1.35"/>
<rect x="476.3" y="608.19" width="5.6" height="5.6" rx="0.6" fill="#6b6b6b" stroke="#000" stroke-width="1.35"/>
<rect x="486.9" y="632.14" width="5.6" height="5.6" rx="0.6" fill="#6b6b6b" stroke="#000" stroke-width="1.35"/>
<rect x="497.5" y="641.25" width="5.6" height="5.6" rx="0.6" fill="#6b6b6b" stroke="#000" stroke-width="1.35"/>
<rect x="508.1" y="625.92" width="5.6" height="5.6" rx="0.6" fill="#6b6b6b" stroke="#000" stroke-width="1.35"/>
<rect x="518.7" y="602.45" width="5.6" height="5.6" rx="0.6" fill="#6b6b6b" stroke="#000" stroke-width="1.35"/>
<rect x="529.3" y="627.83" width="5.6" height="5.6" rx="0.6" fill="#6b6b6b" stroke="#000" stroke-width="1.35"/>
<rect x="539.9" y="651.78" width="5.6" height="5.6" rx="0.6" fill="#6b6b6b" stroke="#000" stroke-width="1.35"/>
<rect x="550.5" y="658.01" width="5.6" height="5.6" rx="0.6" fill="#6b6b6b" stroke="#000" stroke-width="1.35"/>
<rect x="561.1" y="652.74" width="5.6" height="5.6" rx="0.6" fill="#6b6b6b" stroke="#000" stroke-width="1.35"/>
<rect x="571.7" y="654.66" width="5.6" height="5.6" rx="0.6" fill="#6b6b6b" stroke="#000" stroke-width="1.35"/>
<rect x="582.3" y="659.93" width="5.6" height="5.6" rx="0.6" fill="#6b6b6b" stroke="#000" stroke-width="1.35"/>
<rect x="592.9" y="655.14" width="5.6" height="5.6" rx="0.6" fill="#6b6b6b" stroke="#000" stroke-width="1.35"/>
<rect x="603.5" y="656.57" width="5.6" height="5.6" rx="0.6" fill="#6b6b6b" stroke="#000" stroke-width="1.35"/>
<rect x="614.1" y="658.97" width="5.6" height="5.6" rx="0.6" fill="#6b6b6b" stroke="#000" stroke-width="1.35"/>
<rect x="624.7" y="650.35" width="5.6" height="5.6" rx="0.6" fill="#6b6b6b" stroke="#000" stroke-width="1.35"/>
<rect x="635.3" y="659.93" width="5.6" height="5.6" rx="0.6" fill="#6b6b6b" stroke="#000" stroke-width="1.35"/>
<rect x="645.9" y="658.01" width="5.6" height="5.6" rx="0.6" fill="#6b6b6b" stroke="#000" stroke-width="1.35"/>
</svg>
</body></html>
